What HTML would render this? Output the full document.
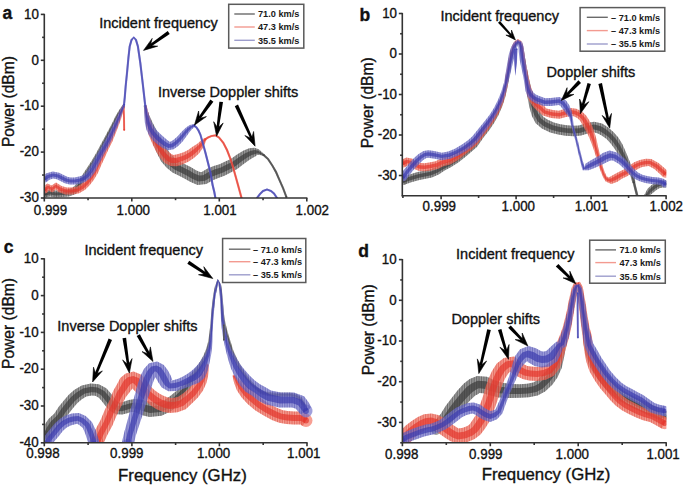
<!DOCTYPE html>
<html><head><meta charset="utf-8"><title>Doppler spectra</title>
<style>
html,body{margin:0;padding:0;background:#fff;}
body{width:685px;height:488px;overflow:hidden;}
svg{display:block;}
text{font-family:"Liberation Sans", sans-serif;fill:#111;stroke:#111;stroke-width:0.35px;}
</style></head><body>
<svg width="685" height="488" viewBox="0 0 685 488">
<defs>
<pattern id="hk" width="1.7" height="4" patternUnits="userSpaceOnUse"><rect width="0.8" height="4" fill="#222" fill-opacity="0.45"/></pattern>
<pattern id="hr" width="1.7" height="4" patternUnits="userSpaceOnUse"><rect width="0.8" height="4" fill="#c01a10" fill-opacity="0.4"/></pattern>
<pattern id="hb" width="1.7" height="4" patternUnits="userSpaceOnUse"><rect width="0.8" height="4" fill="#2a2a90" fill-opacity="0.4"/></pattern>
<clipPath id="ca"><rect x="44.3" y="0" width="270" height="198"/></clipPath>
<clipPath id="cb"><rect x="402.3" y="0" width="264" height="196"/></clipPath>
<clipPath id="cc"><rect x="44.3" y="240" width="270" height="202.6"/></clipPath>
<clipPath id="cd"><rect x="402.4" y="240" width="264" height="203"/></clipPath>
</defs>
<rect width="685" height="488" fill="#fff"/>
<g clip-path="url(#ca)">
<polygon points="45.1,197.4 50.0,196.5 55.9,197.5 62.3,197.0 68.7,196.4 75.8,194.0 80.5,189.0 84.3,182.4 88.2,175.3 91.9,168.7 95.9,162.1 99.8,155.0 103.8,147.4 107.7,139.9 111.6,131.8 114.9,124.7 117.8,118.2 120.6,112.7 123.0,108.7 124.4,106.7 122.6,105.3 121.0,107.3 118.4,111.3 115.2,116.8 112.1,123.3 108.4,130.2 104.3,138.1 100.2,145.6 96.2,153.0 92.1,159.9 88.1,166.3 83.8,172.7 79.7,179.6 75.5,185.0 72.2,188.0 67.3,189.6 61.7,190.0 56.1,190.5 50.0,189.5 43.9,190.6" fill="#7a7a7a" fill-opacity="0.72"/>
<circle cx="44.5" cy="194.0" r="3.50" fill="#7a7a7a" fill-opacity="0.72"/>
<circle cx="123.5" cy="106.0" r="1.10" fill="#7a7a7a" fill-opacity="0.72"/>
<polygon points="45.1,197.4 50.0,196.5 55.9,197.5 62.3,197.0 68.7,196.4 75.8,194.0 80.5,189.0 84.3,182.4 88.2,175.3 91.9,168.7 95.9,162.1 99.8,155.0 103.8,147.4 107.7,139.9 111.6,131.8 114.9,124.7 117.8,118.2 120.6,112.7 123.0,108.7 124.4,106.7 122.6,105.3 121.0,107.3 118.4,111.3 115.2,116.8 112.1,123.3 108.4,130.2 104.3,138.1 100.2,145.6 96.2,153.0 92.1,159.9 88.1,166.3 83.8,172.7 79.7,179.6 75.5,185.0 72.2,188.0 67.3,189.6 61.7,190.0 56.1,190.5 50.0,189.5 43.9,190.6" fill="url(#hk)"/>
<polygon points="44.8,195.5 50.0,194.6 55.9,195.6 62.1,195.1 68.3,194.5 74.8,192.4 79.1,187.9 83.1,181.6 87.0,174.6 90.9,168.0 94.9,161.5 98.8,154.4 102.8,146.9 106.8,139.4 110.7,131.4 114.1,124.3 117.1,117.8 120.0,112.3 122.4,108.3 123.9,106.3 123.1,105.7 121.6,107.7 119.0,111.7 115.9,117.2 112.9,123.7 109.3,130.6 105.2,138.6 101.2,146.1 97.2,153.6 93.1,160.5 89.1,167.0 85.0,173.4 80.9,180.4 76.9,186.1 73.2,189.6 67.7,191.5 61.9,191.9 56.1,192.4 50.0,191.4 44.2,192.5" fill="#3a3a3a" fill-opacity="0.7"/>
<circle cx="44.5" cy="194.0" r="1.57" fill="#3a3a3a" fill-opacity="0.7"/>
<circle cx="123.5" cy="106.0" r="0.50" fill="#3a3a3a" fill-opacity="0.7"/>
<polygon points="143.8,106.3 145.1,115.5 147.2,125.0 150.3,135.6 153.5,145.1 157.1,153.6 161.2,161.6 166.7,167.8 172.5,172.5 179.1,175.8 184.9,178.7 190.1,181.8 197.6,184.9 206.2,184.1 212.9,180.3 218.3,178.1 224.4,175.8 230.7,172.4 237.2,169.1 243.3,164.2 248.8,160.2 252.8,157.7 255.6,156.2 257.3,154.7 260.2,155.0 263.1,156.0 264.1,154.0 261.8,152.0 258.7,149.3 254.4,147.8 249.2,148.3 243.2,150.8 236.7,154.8 230.8,158.9 225.3,161.6 219.6,164.2 213.7,165.9 207.1,168.7 201.8,171.9 200.0,172.1 195.9,170.2 191.1,167.3 184.9,164.2 179.5,161.5 175.3,158.2 170.8,154.4 166.9,148.4 162.5,140.9 157.7,132.4 152.8,123.0 148.9,114.5 146.2,105.7" fill="#7a7a7a" fill-opacity="0.72"/>
<circle cx="145.0" cy="106.0" r="1.25" fill="#7a7a7a" fill-opacity="0.72"/>
<circle cx="263.6" cy="155.0" r="1.10" fill="#7a7a7a" fill-opacity="0.72"/>
<polygon points="143.8,106.3 145.1,115.5 147.2,125.0 150.3,135.6 153.5,145.1 157.1,153.6 161.2,161.6 166.7,167.8 172.5,172.5 179.1,175.8 184.9,178.7 190.1,181.8 197.6,184.9 206.2,184.1 212.9,180.3 218.3,178.1 224.4,175.8 230.7,172.4 237.2,169.1 243.3,164.2 248.8,160.2 252.8,157.7 255.6,156.2 257.3,154.7 260.2,155.0 263.1,156.0 264.1,154.0 261.8,152.0 258.7,149.3 254.4,147.8 249.2,148.3 243.2,150.8 236.7,154.8 230.8,158.9 225.3,161.6 219.6,164.2 213.7,165.9 207.1,168.7 201.8,171.9 200.0,172.1 195.9,170.2 191.1,167.3 184.9,164.2 179.5,161.5 175.3,158.2 170.8,154.4 166.9,148.4 162.5,140.9 157.7,132.4 152.8,123.0 148.9,114.5 146.2,105.7" fill="url(#hk)"/>
<polygon points="144.5,106.1 146.1,115.2 148.7,124.5 152.3,134.7 156.0,144.0 159.8,152.2 163.8,159.6 169.0,165.2 174.4,169.5 180.7,172.6 186.6,175.6 191.7,178.6 198.3,181.4 205.0,180.8 211.3,177.1 217.0,174.7 223.1,172.6 229.2,169.4 235.4,166.3 241.5,161.6 247.3,157.6 251.8,155.1 255.3,153.9 257.7,153.2 260.6,154.2 263.4,155.4 263.8,154.6 261.4,152.8 258.3,150.8 254.7,150.1 250.2,150.9 244.7,153.4 238.5,157.4 232.6,161.7 226.8,164.6 220.9,167.4 215.0,169.3 208.7,171.9 203.0,175.2 199.3,175.6 194.3,173.4 189.4,170.4 183.3,167.4 177.6,164.5 173.0,160.8 168.2,156.4 164.2,149.8 160.0,142.0 155.7,133.3 151.3,123.5 147.9,114.8 145.5,105.9" fill="#3a3a3a" fill-opacity="0.7"/>
<circle cx="145.0" cy="106.0" r="0.56" fill="#3a3a3a" fill-opacity="0.7"/>
<circle cx="263.6" cy="155.0" r="0.50" fill="#3a3a3a" fill-opacity="0.7"/>
<polygon points="262.9,155.8 267.2,159.7 271.4,166.1 275.0,172.5 278.3,180.0 282.0,188.4 285.4,197.4 287.4,196.6 284.0,187.6 280.3,179.2 277.0,171.5 273.2,164.9 268.8,158.3 264.3,154.2" fill="#7a7a7a" fill-opacity="0.72"/>
<circle cx="263.6" cy="155.0" r="1.10" fill="#7a7a7a" fill-opacity="0.72"/>
<circle cx="286.4" cy="197.0" r="1.10" fill="#7a7a7a" fill-opacity="0.72"/>
<polygon points="263.0,155.7 267.3,159.6 271.6,166.0 275.2,172.4 278.5,180.0 282.2,188.3 285.6,197.3 287.2,196.7 283.8,187.7 280.1,179.2 276.8,171.6 273.0,165.0 268.7,158.4 264.2,154.3" fill="#3a3a3a" fill-opacity="0.7"/>
<circle cx="263.6" cy="155.0" r="0.88" fill="#3a3a3a" fill-opacity="0.7"/>
<circle cx="286.4" cy="197.0" r="0.88" fill="#3a3a3a" fill-opacity="0.7"/>
<polygon points="46.8,192.7 48.5,190.5 52.4,192.5 56.0,189.5 58.4,192.1 65.4,194.5 72.3,194.5 79.2,193.3 85.1,189.8 89.6,185.3 93.7,179.9 97.9,173.0 101.2,165.3 104.7,157.8 108.5,149.2 112.5,141.2 115.8,133.0 118.6,125.8 121.1,118.7 122.8,112.6 124.3,108.6 124.9,107.1 122.7,105.9 121.7,107.4 119.8,111.4 117.3,117.3 114.4,124.2 111.2,131.0 107.5,138.8 103.5,146.8 99.3,155.2 95.8,162.7 92.1,170.0 88.3,176.1 84.4,180.7 80.9,184.2 76.8,186.7 71.7,187.5 66.6,187.5 61.6,185.9 56.0,182.5 51.6,185.5 47.5,183.5 42.2,187.3" fill="#f47a6a" fill-opacity="0.72"/>
<circle cx="44.5" cy="190.0" r="3.50" fill="#f47a6a" fill-opacity="0.72"/>
<circle cx="123.8" cy="106.5" r="1.20" fill="#f47a6a" fill-opacity="0.72"/>
<polygon points="46.8,192.7 48.5,190.5 52.4,192.5 56.0,189.5 58.4,192.1 65.4,194.5 72.3,194.5 79.2,193.3 85.1,189.8 89.6,185.3 93.7,179.9 97.9,173.0 101.2,165.3 104.7,157.8 108.5,149.2 112.5,141.2 115.8,133.0 118.6,125.8 121.1,118.7 122.8,112.6 124.3,108.6 124.9,107.1 122.7,105.9 121.7,107.4 119.8,111.4 117.3,117.3 114.4,124.2 111.2,131.0 107.5,138.8 103.5,146.8 99.3,155.2 95.8,162.7 92.1,170.0 88.3,176.1 84.4,180.7 80.9,184.2 76.8,186.7 71.7,187.5 66.6,187.5 61.6,185.9 56.0,182.5 51.6,185.5 47.5,183.5 42.2,187.3" fill="url(#hr)"/>
<polygon points="45.5,191.2 48.2,188.6 52.2,190.6 56.0,187.6 59.3,190.4 65.7,192.6 72.1,192.6 78.5,191.5 84.0,188.2 88.2,184.0 92.2,178.8 96.3,172.2 99.7,164.6 103.2,157.1 107.1,148.5 111.1,140.5 114.5,132.4 117.4,125.4 120.0,118.3 122.0,112.3 123.6,108.3 124.3,106.8 123.3,106.2 122.4,107.7 120.6,111.7 118.4,117.7 115.6,124.6 112.5,131.6 108.9,139.5 104.9,147.5 100.8,155.9 97.3,163.4 93.7,170.8 89.8,177.2 85.8,182.0 82.0,185.8 77.5,188.5 71.9,189.4 66.3,189.4 60.7,187.6 56.0,184.4 51.8,187.4 47.8,185.4 43.5,188.8" fill="#e4362c" fill-opacity="0.7"/>
<circle cx="44.5" cy="190.0" r="1.57" fill="#e4362c" fill-opacity="0.7"/>
<circle cx="123.8" cy="106.5" r="0.54" fill="#e4362c" fill-opacity="0.7"/>
<polygon points="122.5,106.0 123.0,118.0 123.2,130.0 125.2,130.0 125.0,118.0 124.5,106.0" fill="#f47a6a" fill-opacity="0.72"/>
<circle cx="123.5" cy="106.0" r="1.00" fill="#f47a6a" fill-opacity="0.72"/>
<circle cx="124.2" cy="130.0" r="1.00" fill="#f47a6a" fill-opacity="0.72"/>
<polygon points="122.7,106.0 123.2,118.0 123.4,130.0 125.0,130.0 124.8,118.0 124.3,106.0" fill="#e4362c" fill-opacity="0.7"/>
<circle cx="123.5" cy="106.0" r="0.80" fill="#e4362c" fill-opacity="0.7"/>
<circle cx="124.2" cy="130.0" r="0.80" fill="#e4362c" fill-opacity="0.7"/>
<polygon points="144.3,106.2 145.0,116.4 146.1,125.8 148.8,135.3 152.5,143.9 156.2,151.4 160.2,157.7 164.7,162.9 170.6,166.1 176.9,166.2 182.8,164.2 188.3,161.7 193.9,158.1 199.0,153.4 202.6,148.3 205.0,143.5 206.2,140.4 203.8,138.6 201.0,140.5 197.4,143.7 193.0,146.6 188.1,149.9 183.7,152.3 179.2,153.8 175.1,154.8 173.4,154.9 171.3,154.1 167.8,151.3 163.8,146.6 159.5,140.1 155.2,132.7 151.9,124.2 149.0,115.6 146.7,105.8" fill="#f47a6a" fill-opacity="0.72"/>
<circle cx="145.5" cy="106.0" r="1.25" fill="#f47a6a" fill-opacity="0.72"/>
<circle cx="205.0" cy="139.5" r="1.50" fill="#f47a6a" fill-opacity="0.72"/>
<polygon points="144.3,106.2 145.0,116.4 146.1,125.8 148.8,135.3 152.5,143.9 156.2,151.4 160.2,157.7 164.7,162.9 170.6,166.1 176.9,166.2 182.8,164.2 188.3,161.7 193.9,158.1 199.0,153.4 202.6,148.3 205.0,143.5 206.2,140.4 203.8,138.6 201.0,140.5 197.4,143.7 193.0,146.6 188.1,149.9 183.7,152.3 179.2,153.8 175.1,154.8 173.4,154.9 171.3,154.1 167.8,151.3 163.8,146.6 159.5,140.1 155.2,132.7 151.9,124.2 149.0,115.6 146.7,105.8" fill="url(#hr)"/>
<polygon points="144.9,106.1 146.1,116.2 147.7,125.4 150.5,134.6 154.4,142.8 158.3,150.1 162.3,155.9 166.5,160.5 171.4,163.0 176.4,163.1 181.8,161.3 187.1,159.1 192.3,155.8 197.3,151.5 201.2,147.0 203.9,142.7 205.5,139.9 204.5,139.1 202.1,141.3 198.8,145.0 194.7,148.5 189.7,152.2 184.9,154.9 180.2,156.7 175.6,157.9 172.6,158.0 169.5,156.5 165.7,153.1 161.7,147.9 157.6,141.2 153.5,133.4 150.3,124.6 147.9,115.8 146.1,105.9" fill="#e4362c" fill-opacity="0.7"/>
<circle cx="145.5" cy="106.0" r="0.56" fill="#e4362c" fill-opacity="0.7"/>
<circle cx="205.0" cy="139.5" r="0.68" fill="#e4362c" fill-opacity="0.7"/>
<polygon points="205.6,140.4 208.5,138.5 211.8,137.1 215.2,136.5 218.2,138.3 222.4,143.4 226.0,150.4 229.3,158.9 231.9,167.3 234.4,176.3 236.9,185.3 239.7,195.6 240.4,198.3 242.6,197.7 241.9,195.0 239.1,184.7 236.6,175.7 234.1,166.7 231.3,158.1 228.0,149.6 224.2,142.2 219.8,136.7 215.6,134.3 211.2,134.9 207.5,136.5 204.4,138.6" fill="#f47a6a" fill-opacity="0.72"/>
<circle cx="205.0" cy="139.5" r="1.10" fill="#f47a6a" fill-opacity="0.72"/>
<circle cx="241.5" cy="198.0" r="1.10" fill="#f47a6a" fill-opacity="0.72"/>
<polygon points="205.5,140.2 208.4,138.3 211.7,136.8 215.2,136.3 218.4,138.1 222.6,143.3 226.2,150.4 229.5,158.8 232.2,167.3 234.7,176.2 237.2,185.2 240.0,195.5 240.6,198.2 242.4,197.8 241.6,195.1 238.8,184.8 236.3,175.8 233.8,166.7 231.1,158.2 227.8,149.6 224.0,142.3 219.6,136.9 215.6,134.5 211.3,135.2 207.6,136.7 204.5,138.8" fill="#e4362c" fill-opacity="0.7"/>
<circle cx="205.0" cy="139.5" r="0.88" fill="#e4362c" fill-opacity="0.7"/>
<circle cx="241.5" cy="198.0" r="0.88" fill="#e4362c" fill-opacity="0.7"/>
<polygon points="46.5,181.8 49.5,179.7 53.2,178.5 56.9,179.3 60.4,181.1 64.8,183.3 69.6,184.5 75.3,184.5 80.9,183.4 85.7,181.6 90.5,177.9 95.0,171.9 97.9,166.1 100.9,160.5 104.1,154.0 108.1,146.9 112.0,139.2 115.3,131.6 118.1,124.9 120.6,118.3 122.5,112.6 124.1,108.6 125.1,105.4 122.9,104.6 121.5,107.4 119.5,111.4 117.0,116.7 113.9,123.1 110.7,129.4 107.0,136.8 102.9,144.1 98.9,151.0 95.1,157.5 92.1,162.9 89.0,168.1 85.5,173.1 82.3,175.4 79.1,176.6 74.7,177.5 70.4,177.5 67.2,176.7 63.6,174.9 59.1,172.7 52.8,171.5 46.5,173.3 42.5,176.2" fill="#7b7bcf" fill-opacity="0.72"/>
<circle cx="44.5" cy="179.0" r="3.50" fill="#7b7bcf" fill-opacity="0.72"/>
<circle cx="124.0" cy="105.0" r="1.20" fill="#7b7bcf" fill-opacity="0.72"/>
<polygon points="46.5,181.8 49.5,179.7 53.2,178.5 56.9,179.3 60.4,181.1 64.8,183.3 69.6,184.5 75.3,184.5 80.9,183.4 85.7,181.6 90.5,177.9 95.0,171.9 97.9,166.1 100.9,160.5 104.1,154.0 108.1,146.9 112.0,139.2 115.3,131.6 118.1,124.9 120.6,118.3 122.5,112.6 124.1,108.6 125.1,105.4 122.9,104.6 121.5,107.4 119.5,111.4 117.0,116.7 113.9,123.1 110.7,129.4 107.0,136.8 102.9,144.1 98.9,151.0 95.1,157.5 92.1,162.9 89.0,168.1 85.5,173.1 82.3,175.4 79.1,176.6 74.7,177.5 70.4,177.5 67.2,176.7 63.6,174.9 59.1,172.7 52.8,171.5 46.5,173.3 42.5,176.2" fill="url(#hb)"/>
<polygon points="45.4,180.3 48.7,177.9 53.1,176.6 57.5,177.5 61.3,179.4 65.4,181.5 69.8,182.6 75.2,182.6 80.4,181.5 84.8,179.9 89.1,176.6 93.3,170.8 96.3,165.2 99.3,159.7 102.7,153.2 106.7,146.2 110.6,138.6 114.0,131.0 116.9,124.4 119.6,117.8 121.7,112.3 123.4,108.2 124.5,105.2 123.5,104.8 122.2,107.8 120.3,111.7 118.0,117.2 115.1,123.6 112.0,130.0 108.4,137.4 104.3,144.8 100.3,151.8 96.7,158.3 93.7,163.8 90.7,169.2 86.9,174.4 83.2,177.1 79.6,178.5 74.8,179.4 70.2,179.4 66.6,178.5 62.7,176.6 58.5,174.5 52.9,173.4 47.3,175.1 43.6,177.7" fill="#3c3cae" fill-opacity="0.7"/>
<circle cx="44.5" cy="179.0" r="1.57" fill="#3c3cae" fill-opacity="0.7"/>
<circle cx="124.0" cy="105.0" r="0.54" fill="#3c3cae" fill-opacity="0.7"/>
<polygon points="125.1,105.1 125.9,97.1 126.7,87.1 128.3,71.1 129.6,57.1 130.8,46.6 132.5,40.5 133.8,38.5 135.0,40.5 136.8,46.6 139.2,62.9 141.7,84.2 144.1,105.5 146.3,105.3 143.9,84.0 141.4,62.7 139.0,46.2 137.0,39.5 133.8,36.3 130.5,39.5 128.6,46.2 127.4,56.9 126.1,70.9 124.5,86.9 123.7,96.9 122.9,104.9" fill="#7b7bcf" fill-opacity="0.72"/>
<circle cx="124.0" cy="105.0" r="1.10" fill="#7b7bcf" fill-opacity="0.72"/>
<circle cx="145.2" cy="105.4" r="1.10" fill="#7b7bcf" fill-opacity="0.72"/>
<polygon points="124.9,105.1 125.7,97.1 126.5,87.1 128.1,71.1 129.4,57.1 130.6,46.6 132.3,40.4 133.8,38.3 135.2,40.4 137.0,46.6 139.4,62.9 141.9,84.2 144.3,105.5 146.1,105.3 143.7,84.0 141.2,62.7 138.8,46.2 136.8,39.6 133.8,36.5 130.7,39.6 128.8,46.2 127.6,56.9 126.3,70.9 124.7,86.9 123.9,96.9 123.1,104.9" fill="#3c3cae" fill-opacity="0.7"/>
<circle cx="124.0" cy="105.0" r="0.88" fill="#3c3cae" fill-opacity="0.7"/>
<circle cx="145.2" cy="105.4" r="0.88" fill="#3c3cae" fill-opacity="0.7"/>
<polygon points="144.0,105.6 144.3,115.4 144.9,122.8 146.4,129.7 149.4,135.7 153.6,140.9 158.0,144.7 162.5,147.8 167.8,150.2 173.6,149.2 178.2,145.9 182.6,141.4 186.9,135.7 189.9,131.4 192.2,128.9 194.7,126.8 193.3,124.2 189.8,125.1 186.1,127.6 181.9,131.5 177.4,136.6 173.4,140.1 170.4,141.8 169.6,141.8 167.5,140.2 164.0,137.3 160.4,134.1 156.6,130.3 153.6,126.3 151.1,121.2 148.7,114.6 146.4,105.2" fill="#7b7bcf" fill-opacity="0.72"/>
<circle cx="145.2" cy="105.4" r="1.25" fill="#7b7bcf" fill-opacity="0.72"/>
<circle cx="194.0" cy="125.5" r="1.50" fill="#7b7bcf" fill-opacity="0.72"/>
<polygon points="144.0,105.6 144.3,115.4 144.9,122.8 146.4,129.7 149.4,135.7 153.6,140.9 158.0,144.7 162.5,147.8 167.8,150.2 173.6,149.2 178.2,145.9 182.6,141.4 186.9,135.7 189.9,131.4 192.2,128.9 194.7,126.8 193.3,124.2 189.8,125.1 186.1,127.6 181.9,131.5 177.4,136.6 173.4,140.1 170.4,141.8 169.6,141.8 167.5,140.2 164.0,137.3 160.4,134.1 156.6,130.3 153.6,126.3 151.1,121.2 148.7,114.6 146.4,105.2" fill="url(#hb)"/>
<polygon points="144.6,105.5 145.5,115.2 146.6,122.4 148.4,128.7 151.4,134.2 155.5,139.0 159.7,142.7 163.9,145.7 168.3,147.9 172.7,147.2 176.9,144.3 181.2,140.1 185.5,134.5 188.9,130.4 191.6,127.8 194.3,126.1 193.7,124.9 190.4,126.2 187.1,128.6 183.3,132.7 178.8,137.9 174.7,141.7 171.3,143.8 169.1,144.1 166.1,142.3 162.3,139.3 158.5,136.0 154.6,131.8 151.6,127.3 149.4,121.6 147.5,114.8 145.8,105.3" fill="#3c3cae" fill-opacity="0.7"/>
<circle cx="145.2" cy="105.4" r="0.56" fill="#3c3cae" fill-opacity="0.7"/>
<circle cx="194.0" cy="125.5" r="0.68" fill="#3c3cae" fill-opacity="0.7"/>
<polygon points="193.3,126.4 195.7,128.2 197.5,131.0 199.5,135.4 201.4,142.3 204.4,153.3 207.2,164.3 209.4,173.2 211.5,185.2 213.2,192.2 214.3,198.2 216.5,197.8 215.4,191.8 213.7,184.8 211.6,172.8 209.4,163.7 206.6,152.7 203.6,141.7 201.5,134.6 199.5,130.0 197.3,126.8 194.7,124.6" fill="#7b7bcf" fill-opacity="0.72"/>
<circle cx="194.0" cy="125.5" r="1.10" fill="#7b7bcf" fill-opacity="0.72"/>
<circle cx="215.4" cy="198.0" r="1.10" fill="#7b7bcf" fill-opacity="0.72"/>
<polygon points="193.5,126.2 195.8,128.1 197.7,130.9 199.7,135.3 201.7,142.2 204.6,153.2 207.4,164.2 209.6,173.2 211.7,185.2 213.4,192.2 214.5,198.2 216.3,197.8 215.2,191.8 213.5,184.8 211.4,172.8 209.2,163.8 206.4,152.8 203.3,141.8 201.3,134.7 199.3,130.1 197.2,126.9 194.5,124.8" fill="#3c3cae" fill-opacity="0.7"/>
<circle cx="194.0" cy="125.5" r="0.88" fill="#3c3cae" fill-opacity="0.7"/>
<circle cx="215.4" cy="198.0" r="0.88" fill="#3c3cae" fill-opacity="0.7"/>
<polygon points="257.9,198.7 260.8,194.7 263.6,191.9 267.0,190.6 270.5,192.0 273.2,194.2 276.1,198.6 277.9,197.4 274.8,192.8 271.5,190.0 267.0,188.4 262.4,190.1 259.2,193.3 256.1,197.3" fill="#7b7bcf" fill-opacity="0.72"/>
<circle cx="257.0" cy="198.0" r="1.10" fill="#7b7bcf" fill-opacity="0.72"/>
<circle cx="277.0" cy="198.0" r="1.10" fill="#7b7bcf" fill-opacity="0.72"/>
<polygon points="257.7,198.5 260.7,194.6 263.5,191.7 267.0,190.4 270.6,191.8 273.3,194.1 276.3,198.5 277.7,197.5 274.7,192.9 271.4,190.2 267.0,188.6 262.5,190.3 259.3,193.4 256.3,197.5" fill="#3c3cae" fill-opacity="0.7"/>
<circle cx="257.0" cy="198.0" r="0.88" fill="#3c3cae" fill-opacity="0.7"/>
<circle cx="277.0" cy="198.0" r="0.88" fill="#3c3cae" fill-opacity="0.7"/>
</g>
<g clip-path="url(#cb)">
<polygon points="404.3,184.8 411.2,182.3 419.4,179.9 431.8,177.4 438.7,174.4 444.6,170.6 450.8,167.3 458.3,162.4 465.9,156.4 471.7,151.6 477.1,146.8 483.5,137.5 489.0,130.5 493.9,123.2 498.3,115.4 502.1,106.7 505.0,98.0 507.3,88.3 509.2,78.3 510.5,70.2 511.7,62.3 513.3,54.4 515.1,48.1 516.9,45.0 518.0,44.0 519.0,44.8 520.4,49.4 521.5,55.3 522.7,62.2 523.8,70.3 525.0,79.3 526.0,88.5 527.6,97.7 529.4,107.2 531.9,115.9 535.7,123.3 541.9,128.5 550.2,132.4 558.1,134.5 565.4,135.7 573.8,136.2 581.1,135.6 589.3,133.1 593.8,132.2 598.0,133.4 602.0,135.8 606.6,139.1 610.7,143.4 614.6,148.8 618.5,154.8 621.9,160.6 624.8,165.2 627.9,170.9 630.3,175.5 632.3,182.4 635.3,181.6 633.7,174.5 632.1,169.1 630.2,162.8 628.1,157.4 625.5,151.2 622.4,144.2 618.3,137.6 613.4,131.9 608.0,127.2 602.0,123.6 594.2,121.8 586.7,122.9 578.9,125.4 573.8,125.8 566.6,125.3 560.3,124.3 553.8,122.6 547.3,119.5 543.3,116.7 540.1,112.1 536.6,104.8 533.4,96.3 531.0,87.5 529.0,78.7 527.2,69.7 525.7,61.8 524.5,54.7 523.4,48.6 521.6,43.2 518.0,41.0 514.7,43.0 512.3,46.9 510.3,53.6 508.7,61.7 507.5,69.8 506.0,77.7 504.3,87.7 502.0,97.0 498.9,105.3 494.7,113.6 490.1,120.8 485.0,127.5 479.5,134.5 472.9,143.2 468.3,147.4 462.1,151.6 454.9,157.6 447.6,161.7 441.4,164.4 435.3,167.6 429.8,169.6 417.6,172.1 408.8,174.7 401.7,177.2" fill="#7a7a7a" fill-opacity="0.72"/>
<circle cx="403.0" cy="181.0" r="4.00" fill="#7a7a7a" fill-opacity="0.72"/>
<circle cx="633.8" cy="182.0" r="1.50" fill="#7a7a7a" fill-opacity="0.72"/>
<polygon points="404.3,184.8 411.2,182.3 419.4,179.9 431.8,177.4 438.7,174.4 444.6,170.6 450.8,167.3 458.3,162.4 465.9,156.4 471.7,151.6 477.1,146.8 483.5,137.5 489.0,130.5 493.9,123.2 498.3,115.4 502.1,106.7 505.0,98.0 507.3,88.3 509.2,78.3 510.5,70.2 511.7,62.3 513.3,54.4 515.1,48.1 516.9,45.0 518.0,44.0 519.0,44.8 520.4,49.4 521.5,55.3 522.7,62.2 523.8,70.3 525.0,79.3 526.0,88.5 527.6,97.7 529.4,107.2 531.9,115.9 535.7,123.3 541.9,128.5 550.2,132.4 558.1,134.5 565.4,135.7 573.8,136.2 581.1,135.6 589.3,133.1 593.8,132.2 598.0,133.4 602.0,135.8 606.6,139.1 610.7,143.4 614.6,148.8 618.5,154.8 621.9,160.6 624.8,165.2 627.9,170.9 630.3,175.5 632.3,182.4 635.3,181.6 633.7,174.5 632.1,169.1 630.2,162.8 628.1,157.4 625.5,151.2 622.4,144.2 618.3,137.6 613.4,131.9 608.0,127.2 602.0,123.6 594.2,121.8 586.7,122.9 578.9,125.4 573.8,125.8 566.6,125.3 560.3,124.3 553.8,122.6 547.3,119.5 543.3,116.7 540.1,112.1 536.6,104.8 533.4,96.3 531.0,87.5 529.0,78.7 527.2,69.7 525.7,61.8 524.5,54.7 523.4,48.6 521.6,43.2 518.0,41.0 514.7,43.0 512.3,46.9 510.3,53.6 508.7,61.7 507.5,69.8 506.0,77.7 504.3,87.7 502.0,97.0 498.9,105.3 494.7,113.6 490.1,120.8 485.0,127.5 479.5,134.5 472.9,143.2 468.3,147.4 462.1,151.6 454.9,157.6 447.6,161.7 441.4,164.4 435.3,167.6 429.8,169.6 417.6,172.1 408.8,174.7 401.7,177.2" fill="url(#hk)"/>
<polygon points="403.6,182.7 410.6,180.2 418.9,177.8 431.3,175.2 437.7,172.5 443.7,168.9 449.9,165.8 457.4,161.1 464.8,155.1 470.8,150.5 475.9,145.8 482.4,136.7 487.9,129.7 492.8,122.6 497.3,114.9 501.2,106.3 504.2,97.7 506.5,88.1 508.3,78.1 509.7,70.1 510.9,62.1 512.5,54.2 514.3,47.8 516.3,44.4 518.0,43.2 519.7,44.3 521.2,49.2 522.3,55.1 523.5,62.1 524.7,70.1 526.1,79.1 527.4,88.2 529.2,97.3 531.4,106.5 534.2,114.9 537.8,121.5 543.4,126.0 551.2,129.7 558.7,131.7 565.7,132.8 573.8,133.4 580.5,132.8 588.6,130.3 593.9,129.4 599.1,130.7 603.6,133.4 608.5,137.1 612.8,141.8 616.8,147.5 620.4,153.8 623.6,159.7 626.3,164.6 629.1,170.4 631.2,175.2 633.1,182.2 634.5,181.8 632.8,174.8 630.9,169.6 628.7,163.4 626.4,158.3 623.6,152.2 620.2,145.5 616.2,139.2 611.5,133.9 606.4,129.6 600.9,126.3 594.1,124.6 587.4,125.7 579.5,128.2 573.8,128.6 566.3,128.2 559.7,127.1 552.8,125.3 545.8,122.0 541.2,118.5 537.8,113.1 534.6,105.5 531.8,96.7 529.6,87.8 527.9,78.9 526.3,69.9 524.9,61.9 523.7,54.9 522.6,48.8 520.9,43.7 518.0,41.8 515.3,43.6 513.1,47.2 511.1,53.8 509.5,61.9 508.3,69.9 506.9,77.9 505.1,87.9 502.8,97.3 499.8,105.7 495.7,114.1 491.2,121.4 486.1,128.3 480.6,135.3 474.1,144.2 469.2,148.5 463.2,152.9 455.8,158.9 448.5,163.2 442.3,166.1 436.3,169.5 430.3,171.8 418.1,174.2 409.4,176.8 402.4,179.3" fill="#3a3a3a" fill-opacity="0.7"/>
<circle cx="403.0" cy="181.0" r="1.80" fill="#3a3a3a" fill-opacity="0.7"/>
<circle cx="633.8" cy="182.0" r="0.68" fill="#3a3a3a" fill-opacity="0.7"/>
<polygon points="632.5,182.3 633.7,187.3 635.2,193.3 636.0,196.3 638.6,195.7 637.8,192.7 636.3,186.7 635.1,181.7" fill="#7a7a7a" fill-opacity="0.72"/>
<circle cx="633.8" cy="182.0" r="1.30" fill="#7a7a7a" fill-opacity="0.72"/>
<circle cx="637.3" cy="196.0" r="1.30" fill="#7a7a7a" fill-opacity="0.72"/>
<polygon points="632.8,182.2 634.0,187.2 635.5,193.3 636.3,196.3 638.3,195.7 637.5,192.7 636.0,186.8 634.8,181.8" fill="#3a3a3a" fill-opacity="0.7"/>
<circle cx="633.8" cy="182.0" r="1.04" fill="#3a3a3a" fill-opacity="0.7"/>
<circle cx="637.3" cy="196.0" r="1.04" fill="#3a3a3a" fill-opacity="0.7"/>
<polygon points="647.6,197.2 652.4,193.2 656.1,190.3 659.2,188.2 662.5,187.5 665.5,187.5 665.5,180.5 661.5,180.5 656.4,181.8 651.9,184.7 647.6,188.8 644.4,194.8" fill="#7a7a7a" fill-opacity="0.72"/>
<circle cx="646.0" cy="196.0" r="2.00" fill="#7a7a7a" fill-opacity="0.72"/>
<circle cx="665.5" cy="184.0" r="3.50" fill="#7a7a7a" fill-opacity="0.72"/>
<polygon points="647.6,197.2 652.4,193.2 656.1,190.3 659.2,188.2 662.5,187.5 665.5,187.5 665.5,180.5 661.5,180.5 656.4,181.8 651.9,184.7 647.6,188.8 644.4,194.8" fill="url(#hk)"/>
<polygon points="646.7,196.6 651.1,192.0 655.0,188.7 658.4,186.4 662.2,185.6 665.5,185.6 665.5,182.4 661.8,182.4 657.2,183.6 653.0,186.3 648.9,190.0 645.3,195.4" fill="#3a3a3a" fill-opacity="0.7"/>
<circle cx="646.0" cy="196.0" r="0.90" fill="#3a3a3a" fill-opacity="0.7"/>
<circle cx="665.5" cy="184.0" r="1.57" fill="#3a3a3a" fill-opacity="0.7"/>
<polygon points="404.8,167.1 407.5,165.5 409.4,166.2 413.2,168.6 419.1,170.9 424.8,171.3 430.7,170.4 438.2,168.8 443.2,166.3 450.7,164.2 458.6,159.7 466.1,153.8 472.2,149.2 477.6,144.3 484.1,135.5 489.4,128.3 494.3,121.0 498.7,113.2 502.6,104.4 505.4,95.6 507.5,86.3 508.7,77.3 510.0,68.8 511.3,60.8 513.0,53.4 515.1,47.1 517.1,43.6 518.0,42.7 518.6,43.4 520.0,47.9 521.3,53.2 522.4,61.2 523.5,69.3 524.5,77.3 525.6,86.5 526.9,95.1 529.8,102.0 534.1,107.7 538.8,111.9 542.9,115.6 551.2,117.9 559.5,118.8 566.0,116.9 571.1,115.9 573.7,116.3 577.3,118.1 579.9,120.5 582.0,124.0 584.9,129.3 588.1,135.1 590.6,140.9 593.1,147.7 595.3,154.6 597.3,160.5 599.5,168.1 601.6,173.7 603.5,177.9 605.7,181.6 611.3,184.1 617.4,181.7 621.8,178.8 627.6,176.0 633.1,172.1 637.8,168.9 642.1,167.1 646.6,166.2 648.8,166.1 654.4,169.1 658.5,172.8 663.0,176.8 668.0,171.2 663.5,167.2 658.6,162.9 651.2,158.9 645.8,158.8 639.9,159.9 634.2,162.3 628.9,165.9 623.8,169.6 618.2,172.2 613.6,174.7 610.1,176.7 608.3,177.4 606.5,176.1 604.8,172.3 602.9,167.1 601.1,159.5 599.7,153.4 597.9,146.3 596.4,139.1 594.5,132.5 592.1,125.7 589.0,120.0 586.1,115.5 581.9,111.5 576.3,108.7 570.7,107.9 564.0,109.1 558.9,110.8 552.8,110.1 546.3,108.4 544.2,106.1 539.9,102.3 536.2,98.0 533.1,92.9 530.4,85.5 528.5,76.7 526.9,68.7 525.4,60.8 524.3,52.8 523.4,47.1 521.8,41.6 518.0,38.9 514.3,41.4 511.9,45.9 510.0,52.6 508.3,60.2 507.0,68.2 505.3,76.7 504.1,85.7 501.6,94.4 498.4,102.6 494.3,110.8 489.7,118.0 484.6,124.7 478.9,131.5 472.4,139.7 467.8,143.8 461.9,148.2 454.6,153.3 447.7,156.8 440.4,158.7 435.6,161.2 429.3,162.6 424.4,163.3 420.9,163.1 416.8,161.4 412.6,158.8 406.5,157.5 401.2,159.9" fill="#f47a6a" fill-opacity="0.72"/>
<circle cx="403.0" cy="163.5" r="4.00" fill="#f47a6a" fill-opacity="0.72"/>
<circle cx="665.5" cy="174.0" r="3.75" fill="#f47a6a" fill-opacity="0.72"/>
<polygon points="404.8,167.1 407.5,165.5 409.4,166.2 413.2,168.6 419.1,170.9 424.8,171.3 430.7,170.4 438.2,168.8 443.2,166.3 450.7,164.2 458.6,159.7 466.1,153.8 472.2,149.2 477.6,144.3 484.1,135.5 489.4,128.3 494.3,121.0 498.7,113.2 502.6,104.4 505.4,95.6 507.5,86.3 508.7,77.3 510.0,68.8 511.3,60.8 513.0,53.4 515.1,47.1 517.1,43.6 518.0,42.7 518.6,43.4 520.0,47.9 521.3,53.2 522.4,61.2 523.5,69.3 524.5,77.3 525.6,86.5 526.9,95.1 529.8,102.0 534.1,107.7 538.8,111.9 542.9,115.6 551.2,117.9 559.5,118.8 566.0,116.9 571.1,115.9 573.7,116.3 577.3,118.1 579.9,120.5 582.0,124.0 584.9,129.3 588.1,135.1 590.6,140.9 593.1,147.7 595.3,154.6 597.3,160.5 599.5,168.1 601.6,173.7 603.5,177.9 605.7,181.6 611.3,184.1 617.4,181.7 621.8,178.8 627.6,176.0 633.1,172.1 637.8,168.9 642.1,167.1 646.6,166.2 648.8,166.1 654.4,169.1 658.5,172.8 663.0,176.8 668.0,171.2 663.5,167.2 658.6,162.9 651.2,158.9 645.8,158.8 639.9,159.9 634.2,162.3 628.9,165.9 623.8,169.6 618.2,172.2 613.6,174.7 610.1,176.7 608.3,177.4 606.5,176.1 604.8,172.3 602.9,167.1 601.1,159.5 599.7,153.4 597.9,146.3 596.4,139.1 594.5,132.5 592.1,125.7 589.0,120.0 586.1,115.5 581.9,111.5 576.3,108.7 570.7,107.9 564.0,109.1 558.9,110.8 552.8,110.1 546.3,108.4 544.2,106.1 539.9,102.3 536.2,98.0 533.1,92.9 530.4,85.5 528.5,76.7 526.9,68.7 525.4,60.8 524.3,52.8 523.4,47.1 521.8,41.6 518.0,38.9 514.3,41.4 511.9,45.9 510.0,52.6 508.3,60.2 507.0,68.2 505.3,76.7 504.1,85.7 501.6,94.4 498.4,102.6 494.3,110.8 489.7,118.0 484.6,124.7 478.9,131.5 472.4,139.7 467.8,143.8 461.9,148.2 454.6,153.3 447.7,156.8 440.4,158.7 435.6,161.2 429.3,162.6 424.4,163.3 420.9,163.1 416.8,161.4 412.6,158.8 406.5,157.5 401.2,159.9" fill="url(#hr)"/>
<polygon points="403.8,165.1 407.2,163.3 410.3,164.1 414.2,166.6 419.6,168.8 424.7,169.1 430.3,168.3 437.5,166.7 442.4,164.2 449.9,162.2 457.5,157.9 464.9,152.3 471.0,147.7 476.2,143.0 482.7,134.4 488.1,127.3 493.0,120.2 497.5,112.5 501.4,103.9 504.4,95.3 506.6,86.2 507.8,77.1 509.2,68.6 510.5,60.6 512.2,53.2 514.2,46.8 516.3,43.0 518.0,41.7 519.5,42.9 521.0,47.7 522.1,53.1 523.2,61.1 524.4,69.1 525.6,77.1 526.9,86.2 528.6,94.5 531.6,100.9 535.7,106.2 540.3,110.3 543.8,113.6 551.7,115.8 559.3,116.6 565.4,114.7 571.0,113.7 574.4,114.2 578.6,116.3 581.6,119.1 583.9,122.9 586.9,128.3 589.8,134.4 592.2,140.4 594.4,147.3 596.5,154.3 598.3,160.2 600.4,167.8 602.5,173.3 604.3,177.4 606.4,180.5 611.0,182.1 616.3,179.8 620.8,177.0 626.6,174.3 632.0,170.4 636.8,167.1 641.5,165.1 646.4,164.2 649.5,164.1 655.5,167.4 659.9,171.3 664.4,175.3 666.6,172.7 662.1,168.7 657.5,164.6 650.5,160.9 646.0,160.8 640.5,161.9 635.2,164.1 630.0,167.6 624.8,171.3 619.2,174.0 614.7,176.6 610.4,178.7 607.6,178.5 605.7,176.6 603.9,172.7 602.0,167.4 600.1,159.8 598.5,153.7 596.6,146.7 594.8,139.6 592.8,133.2 590.1,126.7 587.1,121.1 584.4,116.9 580.6,113.3 575.6,110.8 570.8,110.1 564.6,111.3 559.1,113.0 552.3,112.2 545.4,110.4 542.7,107.7 538.3,103.8 534.4,99.1 531.4,93.5 529.1,85.8 527.4,76.9 526.0,68.9 524.6,60.9 523.5,52.9 522.4,47.3 520.9,42.1 518.0,39.9 515.1,42.0 512.8,46.2 510.8,52.8 509.1,60.4 507.8,68.4 506.2,76.9 505.0,85.8 502.6,94.7 499.6,103.1 495.5,111.5 491.0,118.8 485.9,125.7 480.3,132.6 473.8,141.0 469.0,145.3 463.1,149.7 455.7,155.1 448.5,158.8 441.2,160.8 436.3,163.3 429.7,164.7 424.5,165.5 420.4,165.2 415.8,163.4 411.7,160.9 406.8,159.7 402.2,161.9" fill="#e4362c" fill-opacity="0.7"/>
<circle cx="403.0" cy="163.5" r="1.80" fill="#e4362c" fill-opacity="0.7"/>
<circle cx="665.5" cy="174.0" r="1.69" fill="#e4362c" fill-opacity="0.7"/>
<polygon points="406.0,179.7 410.0,174.3 415.1,168.1 419.2,163.7 423.2,160.0 426.4,158.0 428.3,157.8 431.4,158.2 435.0,158.8 441.8,160.2 450.2,158.7 458.3,155.5 466.0,151.0 472.3,146.4 477.8,141.5 484.3,132.6 489.6,125.5 494.5,118.1 498.9,110.3 502.8,101.5 505.6,92.7 507.7,84.0 509.8,76.0 511.5,68.7 513.2,61.6 514.9,54.7 516.4,49.0 517.8,45.4 518.5,44.2 518.1,44.2 518.5,47.4 518.8,52.3 519.8,60.4 521.5,68.4 523.3,76.8 524.6,84.5 525.5,90.9 527.6,96.5 531.2,100.5 535.4,103.2 543.9,106.1 551.3,106.0 558.9,105.0 560.4,106.0 562.8,109.0 566.3,113.8 569.3,117.4 571.1,125.3 573.3,133.3 575.5,141.3 577.3,149.3 579.3,157.3 581.0,164.3 582.6,170.2 588.5,170.2 593.9,168.3 599.0,166.0 603.3,164.1 607.2,162.0 610.5,160.5 613.1,160.6 619.0,164.1 623.3,168.1 628.5,173.5 634.0,178.4 639.7,181.3 645.4,182.9 651.6,184.0 657.5,184.5 660.7,185.2 663.8,187.0 667.2,181.0 663.3,178.8 658.5,177.5 652.4,177.0 647.0,176.1 642.3,174.7 638.0,172.6 633.5,168.5 628.7,162.9 624.0,157.9 616.9,152.4 609.5,150.5 602.8,153.0 598.7,155.9 595.0,158.0 590.1,160.7 585.5,163.8 584.8,166.8 583.6,163.7 581.7,156.7 579.7,148.7 577.9,140.7 575.7,132.7 573.5,124.7 572.7,116.6 571.7,111.2 569.2,105.0 565.6,100.0 559.5,97.0 550.7,98.0 545.3,98.3 538.6,95.8 535.8,94.5 533.4,92.5 531.1,89.1 529.4,83.5 527.7,76.0 526.5,67.6 525.2,59.6 524.2,51.7 523.5,46.6 521.9,41.8 517.5,39.8 513.8,42.6 511.2,47.0 509.1,53.3 507.8,60.4 506.5,67.7 505.4,75.0 503.9,83.0 501.4,91.3 498.2,99.5 494.1,107.7 489.5,114.9 484.4,121.5 478.7,128.4 472.2,136.5 467.7,140.6 462.0,144.6 454.9,148.7 448.2,151.5 441.8,152.7 436.4,151.4 432.6,150.8 428.3,150.2 423.6,151.0 418.6,154.0 413.8,158.3 409.5,163.1 404.0,169.7 400.0,175.3" fill="#7b7bcf" fill-opacity="0.72"/>
<circle cx="403.0" cy="177.5" r="3.75" fill="#7b7bcf" fill-opacity="0.72"/>
<circle cx="665.5" cy="184.0" r="3.50" fill="#7b7bcf" fill-opacity="0.72"/>
<polygon points="406.0,179.7 410.0,174.3 415.1,168.1 419.2,163.7 423.2,160.0 426.4,158.0 428.3,157.8 431.4,158.2 435.0,158.8 441.8,160.2 450.2,158.7 458.3,155.5 466.0,151.0 472.3,146.4 477.8,141.5 484.3,132.6 489.6,125.5 494.5,118.1 498.9,110.3 502.8,101.5 505.6,92.7 507.7,84.0 509.8,76.0 511.5,68.7 513.2,61.6 514.9,54.7 516.4,49.0 517.8,45.4 518.5,44.2 518.1,44.2 518.5,47.4 518.8,52.3 519.8,60.4 521.5,68.4 523.3,76.8 524.6,84.5 525.5,90.9 527.6,96.5 531.2,100.5 535.4,103.2 543.9,106.1 551.3,106.0 558.9,105.0 560.4,106.0 562.8,109.0 566.3,113.8 569.3,117.4 571.1,125.3 573.3,133.3 575.5,141.3 577.3,149.3 579.3,157.3 581.0,164.3 582.6,170.2 588.5,170.2 593.9,168.3 599.0,166.0 603.3,164.1 607.2,162.0 610.5,160.5 613.1,160.6 619.0,164.1 623.3,168.1 628.5,173.5 634.0,178.4 639.7,181.3 645.4,182.9 651.6,184.0 657.5,184.5 660.7,185.2 663.8,187.0 667.2,181.0 663.3,178.8 658.5,177.5 652.4,177.0 647.0,176.1 642.3,174.7 638.0,172.6 633.5,168.5 628.7,162.9 624.0,157.9 616.9,152.4 609.5,150.5 602.8,153.0 598.7,155.9 595.0,158.0 590.1,160.7 585.5,163.8 584.8,166.8 583.6,163.7 581.7,156.7 579.7,148.7 577.9,140.7 575.7,132.7 573.5,124.7 572.7,116.6 571.7,111.2 569.2,105.0 565.6,100.0 559.5,97.0 550.7,98.0 545.3,98.3 538.6,95.8 535.8,94.5 533.4,92.5 531.1,89.1 529.4,83.5 527.7,76.0 526.5,67.6 525.2,59.6 524.2,51.7 523.5,46.6 521.9,41.8 517.5,39.8 513.8,42.6 511.2,47.0 509.1,53.3 507.8,60.4 506.5,67.7 505.4,75.0 503.9,83.0 501.4,91.3 498.2,99.5 494.1,107.7 489.5,114.9 484.4,121.5 478.7,128.4 472.2,136.5 467.7,140.6 462.0,144.6 454.9,148.7 448.2,151.5 441.8,152.7 436.4,151.4 432.6,150.8 428.3,150.2 423.6,151.0 418.6,154.0 413.8,158.3 409.5,163.1 404.0,169.7 400.0,175.3" fill="url(#hb)"/>
<polygon points="404.4,178.5 408.3,173.0 413.6,166.7 417.7,162.2 421.9,158.3 425.6,156.1 428.3,155.7 431.8,156.2 435.4,156.8 441.8,158.1 449.7,156.7 457.3,153.6 464.9,149.2 471.1,144.8 476.3,140.1 482.7,131.5 488.2,124.4 493.1,117.2 497.6,109.6 501.5,100.9 504.5,92.3 506.7,83.7 508.6,75.7 510.1,68.4 511.7,61.3 513.3,54.3 515.0,48.4 516.7,44.6 518.2,43.0 519.1,43.5 519.9,47.2 520.3,52.1 521.3,60.2 522.9,68.2 524.5,76.6 525.9,84.2 527.0,90.4 529.2,95.4 532.5,98.8 536.3,101.2 544.3,104.0 551.1,103.8 559.1,102.8 561.8,104.3 564.6,107.9 567.8,113.1 570.2,117.2 571.8,125.1 574.0,133.1 576.2,141.1 578.0,149.1 580.0,157.1 581.7,164.2 583.2,169.3 587.7,168.4 592.9,166.2 597.9,163.8 602.0,161.9 606.0,159.5 610.2,157.7 614.1,158.3 620.4,162.4 624.8,166.7 629.9,172.1 635.1,176.8 640.4,179.5 645.9,181.0 651.8,182.1 657.8,182.6 661.4,183.5 664.7,185.4 666.3,182.6 662.6,180.5 658.2,179.4 652.2,178.9 646.5,178.0 641.6,176.5 636.9,174.2 632.1,169.9 627.2,164.3 622.6,159.6 615.9,154.7 609.8,153.3 604.0,155.5 600.0,158.1 596.1,160.2 591.1,162.8 586.3,165.6 584.2,167.7 582.9,163.8 581.0,156.9 579.0,148.9 577.2,140.9 575.0,132.9 572.8,124.9 571.8,116.8 570.2,111.9 567.4,106.1 564.2,101.7 559.3,99.2 550.9,100.2 544.9,100.4 537.7,97.8 534.5,96.2 531.8,93.6 529.6,89.6 528.1,83.8 526.5,76.2 525.1,67.8 523.7,59.8 522.7,51.9 522.1,46.8 520.9,42.5 517.8,41.0 514.9,43.4 512.6,47.6 510.7,53.7 509.3,60.7 507.9,68.0 506.6,75.3 504.9,83.3 502.5,91.7 499.5,100.1 495.4,108.4 490.9,115.8 485.8,122.6 480.3,129.5 473.7,137.9 468.9,142.2 463.1,146.4 455.9,150.6 448.7,153.5 441.8,154.7 436.0,153.4 432.2,152.8 428.3,152.3 424.4,152.9 419.9,155.7 415.3,159.8 411.0,164.5 405.7,171.0 401.6,176.5" fill="#3c3cae" fill-opacity="0.7"/>
<circle cx="403.0" cy="177.5" r="1.69" fill="#3c3cae" fill-opacity="0.7"/>
<circle cx="665.5" cy="184.0" r="1.57" fill="#3c3cae" fill-opacity="0.7"/>
<polygon points="513.6,49.0 514.2,62.0 515.3,76.0 517.0,62.0 517.5,49.0 515.5,49.0 515.0,62.0 515.3,74.0 516.2,62.0 515.6,49.0" fill="#7b7bcf" fill-opacity="0.72"/>
<circle cx="514.6" cy="49.0" r="1.00" fill="#7b7bcf" fill-opacity="0.72"/>
<circle cx="516.5" cy="49.0" r="1.00" fill="#7b7bcf" fill-opacity="0.72"/>
<polygon points="513.8,49.0 514.4,62.0 515.3,75.8 516.8,62.0 517.3,49.0 515.7,49.0 515.2,62.0 515.3,74.2 516.0,62.0 515.4,49.0" fill="#3c3cae" fill-opacity="0.7"/>
<circle cx="514.6" cy="49.0" r="0.80" fill="#3c3cae" fill-opacity="0.7"/>
<circle cx="516.5" cy="49.0" r="0.80" fill="#3c3cae" fill-opacity="0.7"/>
</g>
<g clip-path="url(#cc)">
<polygon points="51.2,438.8 54.3,431.9 57.5,426.9 63.6,421.3 68.4,414.0 73.1,408.0 77.2,403.2 81.5,399.6 86.2,396.6 91.7,395.5 95.2,395.7 98.9,397.7 101.9,401.3 105.6,406.1 110.2,411.1 116.3,414.3 122.3,414.4 127.1,413.3 131.2,411.9 134.6,412.0 137.7,413.3 142.3,415.2 149.5,417.0 161.5,415.8 171.3,411.1 179.1,404.4 184.8,396.8 189.4,390.1 193.1,383.6 197.4,377.0 201.0,370.6 204.7,363.7 207.4,356.7 209.3,349.4 210.9,342.3 211.9,334.2 212.6,326.1 213.2,318.1 213.9,310.1 214.7,302.1 215.8,294.2 217.2,287.3 218.7,281.1 218.7,285.3 219.6,291.1 220.2,299.1 220.6,307.1 221.0,314.1 221.6,320.3 223.1,328.4 225.3,336.5 227.8,344.5 230.3,352.2 233.9,360.3 238.3,368.2 243.6,376.5 249.5,384.1 254.9,389.3 261.1,394.2 267.7,396.0 276.5,396.8 290.4,396.8 295.3,397.9 298.7,399.9 303.1,407.6 306.5,405.6 301.7,397.3 296.7,394.1 290.6,392.8 276.7,392.8 268.3,392.0 262.7,390.8 257.1,386.7 252.1,381.7 246.4,374.5 241.3,366.4 237.1,358.7 233.5,351.0 231.2,343.5 228.7,335.5 226.5,327.6 224.8,319.7 224.0,313.9 223.4,306.9 222.8,298.9 222.0,290.9 221.1,284.7 217.7,278.9 214.8,286.7 213.4,293.8 212.3,301.9 211.5,309.9 210.8,317.9 210.2,325.9 209.3,333.8 208.1,341.7 206.3,348.6 203.6,355.3 200.3,361.3 196.0,367.4 191.6,373.0 186.9,379.4 182.6,384.9 177.2,390.2 170.9,395.6 164.7,399.9 158.5,402.2 150.5,402.0 146.5,400.8 141.3,399.7 135.2,399.0 128.8,400.1 123.7,401.7 120.7,402.6 119.3,402.7 117.8,401.9 114.8,398.5 111.1,393.7 106.3,388.3 98.8,384.3 90.7,383.5 81.8,385.4 74.5,389.8 68.8,394.8 63.9,400.4 58.6,407.0 54.4,413.5 48.5,419.1 43.7,426.1 40.2,434.0" fill="#7a7a7a" fill-opacity="0.72"/>
<circle cx="45.7" cy="436.4" r="6.00" fill="#7a7a7a" fill-opacity="0.72"/>
<circle cx="304.8" cy="406.6" r="2.00" fill="#7a7a7a" fill-opacity="0.72"/>
<polygon points="51.2,438.8 54.3,431.9 57.5,426.9 63.6,421.3 68.4,414.0 73.1,408.0 77.2,403.2 81.5,399.6 86.2,396.6 91.7,395.5 95.2,395.7 98.9,397.7 101.9,401.3 105.6,406.1 110.2,411.1 116.3,414.3 122.3,414.4 127.1,413.3 131.2,411.9 134.6,412.0 137.7,413.3 142.3,415.2 149.5,417.0 161.5,415.8 171.3,411.1 179.1,404.4 184.8,396.8 189.4,390.1 193.1,383.6 197.4,377.0 201.0,370.6 204.7,363.7 207.4,356.7 209.3,349.4 210.9,342.3 211.9,334.2 212.6,326.1 213.2,318.1 213.9,310.1 214.7,302.1 215.8,294.2 217.2,287.3 218.7,281.1 218.7,285.3 219.6,291.1 220.2,299.1 220.6,307.1 221.0,314.1 221.6,320.3 223.1,328.4 225.3,336.5 227.8,344.5 230.3,352.2 233.9,360.3 238.3,368.2 243.6,376.5 249.5,384.1 254.9,389.3 261.1,394.2 267.7,396.0 276.5,396.8 290.4,396.8 295.3,397.9 298.7,399.9 303.1,407.6 306.5,405.6 301.7,397.3 296.7,394.1 290.6,392.8 276.7,392.8 268.3,392.0 262.7,390.8 257.1,386.7 252.1,381.7 246.4,374.5 241.3,366.4 237.1,358.7 233.5,351.0 231.2,343.5 228.7,335.5 226.5,327.6 224.8,319.7 224.0,313.9 223.4,306.9 222.8,298.9 222.0,290.9 221.1,284.7 217.7,278.9 214.8,286.7 213.4,293.8 212.3,301.9 211.5,309.9 210.8,317.9 210.2,325.9 209.3,333.8 208.1,341.7 206.3,348.6 203.6,355.3 200.3,361.3 196.0,367.4 191.6,373.0 186.9,379.4 182.6,384.9 177.2,390.2 170.9,395.6 164.7,399.9 158.5,402.2 150.5,402.0 146.5,400.8 141.3,399.7 135.2,399.0 128.8,400.1 123.7,401.7 120.7,402.6 119.3,402.7 117.8,401.9 114.8,398.5 111.1,393.7 106.3,388.3 98.8,384.3 90.7,383.5 81.8,385.4 74.5,389.8 68.8,394.8 63.9,400.4 58.6,407.0 54.4,413.5 48.5,419.1 43.7,426.1 40.2,434.0" fill="url(#hk)"/>
<polygon points="48.2,437.5 51.4,430.3 55.0,424.8 61.1,419.1 65.7,412.1 70.6,405.9 74.9,400.9 79.6,396.9 85.0,393.5 91.4,392.2 96.2,392.6 100.9,395.1 104.4,399.2 108.1,404.0 112.3,408.6 117.1,411.1 121.9,411.2 126.2,410.1 130.6,408.6 134.7,408.4 138.7,409.5 143.5,411.2 149.8,412.9 160.7,412.1 169.5,408.0 176.8,402.0 182.7,395.0 187.5,388.6 191.4,382.4 195.8,375.9 199.6,369.7 203.5,363.0 206.3,356.3 208.5,349.2 210.1,342.1 211.2,334.1 212.0,326.0 212.5,318.0 213.2,310.1 214.0,302.1 215.1,294.1 216.5,287.1 218.4,280.5 219.4,285.1 220.2,291.1 220.9,299.0 221.4,307.0 221.8,314.1 222.5,320.1 224.1,328.2 226.2,336.2 228.7,344.2 231.2,351.9 234.8,359.9 239.1,367.7 244.4,376.0 250.2,383.4 255.5,388.6 261.5,393.3 267.9,394.9 276.6,395.7 290.4,395.7 295.7,396.8 299.5,399.2 304.0,407.0 305.6,406.2 300.9,398.0 296.3,395.2 290.6,393.9 276.6,393.9 268.1,393.1 262.3,391.7 256.5,387.4 251.4,382.4 245.6,375.0 240.5,366.9 236.2,359.1 232.6,351.3 230.3,343.8 227.8,335.8 225.5,327.8 223.9,319.9 223.2,313.9 222.6,307.0 222.1,299.0 221.4,290.9 220.4,284.9 218.0,279.5 215.5,286.9 214.1,293.9 213.0,301.9 212.2,309.9 211.5,318.0 210.8,326.0 210.0,333.9 208.9,341.9 207.1,348.8 204.7,355.7 201.5,362.0 197.4,368.3 193.2,374.1 188.6,380.6 184.5,386.4 179.3,392.0 173.2,398.0 166.5,403.0 159.3,405.9 150.2,406.1 145.3,404.8 140.3,403.5 135.1,402.6 129.4,403.4 124.6,404.9 121.1,405.8 118.5,405.9 115.7,404.4 112.3,400.6 108.6,395.8 104.3,390.9 97.8,387.4 91.0,386.8 83.0,388.5 76.4,392.5 71.1,397.1 66.4,402.5 61.3,408.9 56.9,415.7 51.0,421.2 46.6,427.7 43.2,435.3" fill="#3a3a3a" fill-opacity="0.7"/>
<circle cx="45.7" cy="436.4" r="2.70" fill="#3a3a3a" fill-opacity="0.7"/>
<circle cx="304.8" cy="406.6" r="0.90" fill="#3a3a3a" fill-opacity="0.7"/>
<polygon points="102.9,444.7 107.3,434.9 112.3,425.8 116.9,414.7 121.8,405.1 125.7,397.3 129.8,392.0 132.7,388.0 133.3,387.5 132.4,387.5 131.6,387.3 133.5,389.7 137.4,393.5 141.4,396.9 145.4,400.8 150.8,405.4 156.6,409.2 162.8,411.7 169.7,413.0 177.5,412.3 185.7,409.3 192.3,402.9 198.1,397.2 203.0,390.4 206.4,382.9 208.0,376.4 208.7,370.2 208.9,365.4 206.1,364.6 203.9,368.8 201.0,373.6 197.6,378.1 193.0,383.6 188.9,388.8 183.7,393.1 178.3,396.7 174.5,397.7 170.3,398.0 167.2,397.3 163.4,395.8 159.2,393.6 154.6,390.2 151.2,387.1 148.6,383.5 145.5,379.3 141.4,374.7 133.6,371.5 125.7,373.5 120.3,378.0 117.2,384.0 113.3,390.7 110.0,399.5 105.1,409.3 100.5,420.2 95.7,429.1 91.1,439.3" fill="#f47a6a" fill-opacity="0.72"/>
<circle cx="97.0" cy="442.0" r="6.50" fill="#f47a6a" fill-opacity="0.72"/>
<circle cx="207.5" cy="365.0" r="1.50" fill="#f47a6a" fill-opacity="0.72"/>
<polygon points="102.9,444.7 107.3,434.9 112.3,425.8 116.9,414.7 121.8,405.1 125.7,397.3 129.8,392.0 132.7,388.0 133.3,387.5 132.4,387.5 131.6,387.3 133.5,389.7 137.4,393.5 141.4,396.9 145.4,400.8 150.8,405.4 156.6,409.2 162.8,411.7 169.7,413.0 177.5,412.3 185.7,409.3 192.3,402.9 198.1,397.2 203.0,390.4 206.4,382.9 208.0,376.4 208.7,370.2 208.9,365.4 206.1,364.6 203.9,368.8 201.0,373.6 197.6,378.1 193.0,383.6 188.9,388.8 183.7,393.1 178.3,396.7 174.5,397.7 170.3,398.0 167.2,397.3 163.4,395.8 159.2,393.6 154.6,390.2 151.2,387.1 148.6,383.5 145.5,379.3 141.4,374.7 133.6,371.5 125.7,373.5 120.3,378.0 117.2,384.0 113.3,390.7 110.0,399.5 105.1,409.3 100.5,420.2 95.7,429.1 91.1,439.3" fill="url(#hr)"/>
<polygon points="99.7,443.2 104.1,433.3 109.0,424.3 113.7,413.2 118.5,403.5 122.3,395.5 126.3,389.8 129.3,385.2 131.2,383.7 132.7,383.1 134.3,383.9 136.8,386.9 140.5,390.8 144.1,394.2 147.9,397.9 153.1,402.2 158.5,405.5 164.0,407.7 169.8,408.9 176.7,408.3 183.6,405.8 189.9,400.2 195.6,394.9 200.2,388.5 204.0,381.6 206.1,375.6 207.4,369.8 208.2,365.2 206.8,364.8 205.2,369.2 202.9,374.4 200.0,379.4 195.8,385.5 191.4,391.1 186.1,395.8 180.4,400.2 175.3,401.7 170.2,402.1 166.0,401.3 161.5,399.5 156.9,396.8 152.1,393.1 148.5,389.8 145.5,386.2 142.2,382.1 138.7,378.1 133.3,375.9 127.8,377.3 123.7,380.8 120.7,386.2 116.7,392.5 113.3,401.1 108.3,410.8 103.8,421.7 98.9,430.7 94.3,440.8" fill="#e4362c" fill-opacity="0.7"/>
<circle cx="97.0" cy="442.0" r="2.93" fill="#e4362c" fill-opacity="0.7"/>
<circle cx="207.5" cy="365.0" r="0.68" fill="#e4362c" fill-opacity="0.7"/>
<polygon points="232.7,376.7 234.2,383.2 237.0,390.5 241.7,397.6 247.7,403.9 255.1,410.2 262.8,415.1 271.9,419.9 279.2,422.8 286.3,424.0 293.8,424.5 300.4,424.4 302.7,426.1 309.3,414.9 303.0,411.6 294.2,411.5 287.7,411.0 282.8,410.2 277.3,408.1 269.2,403.9 262.9,399.8 256.3,394.1 250.3,389.4 245.0,384.5 239.8,379.8 235.3,375.3" fill="#f47a6a" fill-opacity="0.72"/>
<circle cx="234.0" cy="376.0" r="1.50" fill="#f47a6a" fill-opacity="0.72"/>
<circle cx="306.0" cy="420.5" r="6.50" fill="#f47a6a" fill-opacity="0.72"/>
<polygon points="232.7,376.7 234.2,383.2 237.0,390.5 241.7,397.6 247.7,403.9 255.1,410.2 262.8,415.1 271.9,419.9 279.2,422.8 286.3,424.0 293.8,424.5 300.4,424.4 302.7,426.1 309.3,414.9 303.0,411.6 294.2,411.5 287.7,411.0 282.8,410.2 277.3,408.1 269.2,403.9 262.9,399.8 256.3,394.1 250.3,389.4 245.0,384.5 239.8,379.8 235.3,375.3" fill="url(#hr)"/>
<polygon points="233.4,376.3 235.8,382.3 239.2,388.9 244.0,395.4 250.1,401.2 257.2,407.3 264.5,412.0 273.4,416.7 280.2,419.3 286.7,420.4 293.9,420.9 301.1,420.9 304.5,423.0 307.5,418.0 302.3,415.1 294.1,415.1 287.3,414.6 281.8,413.7 275.8,411.3 267.5,407.0 260.8,402.7 253.9,396.8 248.0,391.6 242.8,386.1 238.2,380.7 234.6,375.7" fill="#e4362c" fill-opacity="0.7"/>
<circle cx="234.0" cy="376.0" r="0.68" fill="#e4362c" fill-opacity="0.7"/>
<circle cx="306.0" cy="420.5" r="2.93" fill="#e4362c" fill-opacity="0.7"/>
<polygon points="50.6,447.1 54.4,441.3 59.3,435.5 63.0,430.8 66.7,427.5 70.6,425.4 74.1,424.4 77.1,423.8 79.3,425.0 82.9,428.1 85.4,434.0 87.8,441.5 88.6,445.2 99.4,442.8 98.4,438.5 95.6,430.0 91.9,421.9 85.7,416.0 78.9,413.0 71.9,413.6 66.4,415.2 60.3,418.5 55.0,423.2 50.7,428.5 45.6,434.7 41.4,440.9" fill="#7b7bcf" fill-opacity="0.72"/>
<circle cx="46.0" cy="444.0" r="5.50" fill="#7b7bcf" fill-opacity="0.72"/>
<circle cx="94.0" cy="444.0" r="5.50" fill="#7b7bcf" fill-opacity="0.72"/>
<polygon points="50.6,447.1 54.4,441.3 59.3,435.5 63.0,430.8 66.7,427.5 70.6,425.4 74.1,424.4 77.1,423.8 79.3,425.0 82.9,428.1 85.4,434.0 87.8,441.5 88.6,445.2 99.4,442.8 98.4,438.5 95.6,430.0 91.9,421.9 85.7,416.0 78.9,413.0 71.9,413.6 66.4,415.2 60.3,418.5 55.0,423.2 50.7,428.5 45.6,434.7 41.4,440.9" fill="url(#hb)"/>
<polygon points="48.1,445.4 52.0,439.5 56.9,433.6 60.8,428.7 64.9,425.0 69.5,422.6 73.5,421.4 77.6,420.8 81.1,422.5 85.4,426.4 88.2,432.9 90.7,440.7 91.6,444.5 96.4,443.5 95.5,439.3 92.8,431.1 89.4,423.6 83.9,418.5 78.4,416.0 72.5,416.6 67.5,418.0 62.1,421.0 57.2,425.3 53.1,430.4 48.0,436.5 43.9,442.6" fill="#3c3cae" fill-opacity="0.7"/>
<circle cx="46.0" cy="444.0" r="2.48" fill="#3c3cae" fill-opacity="0.7"/>
<circle cx="94.0" cy="444.0" r="2.48" fill="#3c3cae" fill-opacity="0.7"/>
<polygon points="133.4,446.3 135.8,435.5 139.0,425.8 142.2,415.9 145.2,405.9 148.3,397.0 151.2,388.1 153.7,380.6 155.9,376.3 156.9,374.8 154.8,375.4 154.2,375.1 155.8,377.7 158.4,382.4 161.8,387.4 168.4,391.3 176.0,390.9 181.8,389.2 187.4,387.2 192.8,385.1 198.9,382.8 204.4,378.0 207.6,370.7 209.4,363.2 210.9,355.9 212.0,348.4 212.4,341.2 212.6,333.1 213.0,325.1 213.5,317.1 214.2,309.1 214.9,301.1 216.1,293.2 217.6,286.3 218.8,280.9 218.5,284.2 219.4,291.1 220.0,299.1 220.4,306.1 220.7,313.1 221.0,320.1 221.7,328.3 222.9,336.4 224.4,344.6 226.2,352.0 228.3,360.0 230.9,368.3 234.5,376.3 239.2,384.2 245.2,391.5 252.1,395.8 258.1,400.4 266.1,404.6 279.2,407.5 292.1,407.4 295.9,408.8 297.3,410.5 300.6,414.6 311.4,407.4 308.7,402.5 304.1,396.2 293.9,392.6 280.8,392.5 270.9,390.4 265.9,387.6 259.9,384.2 254.8,380.5 249.8,375.8 244.5,369.7 239.7,363.7 235.7,357.0 231.8,350.0 229.2,343.4 227.1,335.6 225.3,327.7 224.2,319.9 223.7,312.9 223.2,305.9 222.6,298.9 221.8,290.9 220.7,283.8 217.6,279.1 215.4,285.7 213.9,292.8 212.7,300.9 211.8,308.9 211.1,316.9 210.6,324.9 210.0,332.9 209.2,340.8 207.6,347.6 205.1,354.1 201.6,359.8 197.4,365.3 193.6,369.0 191.1,371.2 187.2,373.9 182.6,376.8 178.2,378.8 174.0,380.1 171.0,380.7 172.2,379.6 170.6,375.6 167.8,370.3 163.8,364.9 157.2,361.6 149.1,363.2 144.1,368.7 140.7,375.4 137.8,383.9 135.3,393.0 132.8,402.1 129.8,412.1 127.0,422.2 124.2,432.5 121.6,443.7" fill="#7b7bcf" fill-opacity="0.72"/>
<circle cx="127.5" cy="445.0" r="6.00" fill="#7b7bcf" fill-opacity="0.72"/>
<circle cx="306.0" cy="411.0" r="6.50" fill="#7b7bcf" fill-opacity="0.72"/>
<polygon points="133.4,446.3 135.8,435.5 139.0,425.8 142.2,415.9 145.2,405.9 148.3,397.0 151.2,388.1 153.7,380.6 155.9,376.3 156.9,374.8 154.8,375.4 154.2,375.1 155.8,377.7 158.4,382.4 161.8,387.4 168.4,391.3 176.0,390.9 181.8,389.2 187.4,387.2 192.8,385.1 198.9,382.8 204.4,378.0 207.6,370.7 209.4,363.2 210.9,355.9 212.0,348.4 212.4,341.2 212.6,333.1 213.0,325.1 213.5,317.1 214.2,309.1 214.9,301.1 216.1,293.2 217.6,286.3 218.8,280.9 218.5,284.2 219.4,291.1 220.0,299.1 220.4,306.1 220.7,313.1 221.0,320.1 221.7,328.3 222.9,336.4 224.4,344.6 226.2,352.0 228.3,360.0 230.9,368.3 234.5,376.3 239.2,384.2 245.2,391.5 252.1,395.8 258.1,400.4 266.1,404.6 279.2,407.5 292.1,407.4 295.9,408.8 297.3,410.5 300.6,414.6 311.4,407.4 308.7,402.5 304.1,396.2 293.9,392.6 280.8,392.5 270.9,390.4 265.9,387.6 259.9,384.2 254.8,380.5 249.8,375.8 244.5,369.7 239.7,363.7 235.7,357.0 231.8,350.0 229.2,343.4 227.1,335.6 225.3,327.7 224.2,319.9 223.7,312.9 223.2,305.9 222.6,298.9 221.8,290.9 220.7,283.8 217.6,279.1 215.4,285.7 213.9,292.8 212.7,300.9 211.8,308.9 211.1,316.9 210.6,324.9 210.0,332.9 209.2,340.8 207.6,347.6 205.1,354.1 201.6,359.8 197.4,365.3 193.6,369.0 191.1,371.2 187.2,373.9 182.6,376.8 178.2,378.8 174.0,380.1 171.0,380.7 172.2,379.6 170.6,375.6 167.8,370.3 163.8,364.9 157.2,361.6 149.1,363.2 144.1,368.7 140.7,375.4 137.8,383.9 135.3,393.0 132.8,402.1 129.8,412.1 127.0,422.2 124.2,432.5 121.6,443.7" fill="url(#hb)"/>
<polygon points="130.1,445.6 132.6,434.7 135.7,424.8 138.8,414.8 141.8,404.9 144.7,395.9 147.5,387.0 150.1,379.2 152.6,374.2 154.7,371.6 155.5,371.6 156.8,372.3 159.1,375.6 161.7,380.5 164.7,385.2 169.1,388.4 175.5,387.9 180.8,386.3 186.1,384.4 191.3,382.0 196.7,379.6 201.4,375.5 204.8,369.2 207.3,362.2 209.3,355.4 210.8,348.2 211.5,341.1 211.9,333.0 212.4,325.0 212.8,317.0 213.5,309.1 214.3,301.1 215.5,293.1 217.0,286.1 218.5,280.4 219.1,284.1 220.1,291.1 220.7,299.0 221.2,306.0 221.5,313.0 221.9,320.1 222.7,328.1 224.1,336.2 225.7,344.3 227.7,351.5 230.3,359.2 233.3,367.0 237.2,374.5 242.1,381.9 247.9,388.5 254.3,392.6 260.3,396.9 267.4,400.7 279.7,403.4 292.6,403.3 298.2,405.3 300.4,408.3 303.6,412.6 308.4,409.4 305.6,404.7 301.8,399.7 293.4,396.7 280.3,396.6 269.6,394.3 263.7,391.1 257.7,387.4 252.1,383.5 246.9,378.1 241.8,371.5 237.3,365.0 233.7,357.8 230.3,350.5 227.9,343.7 225.9,335.8 224.3,327.9 223.3,319.9 222.9,313.0 222.4,306.0 221.9,299.0 221.1,290.9 220.1,283.9 217.9,279.6 216.0,285.9 214.5,292.9 213.3,300.9 212.5,308.9 211.8,317.0 211.2,325.0 210.7,333.0 210.1,340.9 208.8,347.8 206.7,354.6 203.7,360.8 200.2,366.8 196.6,371.5 193.3,374.4 188.7,377.0 183.9,379.6 179.2,381.7 174.5,383.1 170.3,383.6 169.3,381.8 167.3,377.5 164.5,372.4 161.2,367.7 156.5,365.4 151.3,366.4 147.4,370.8 144.3,376.8 141.5,385.0 138.9,394.1 136.2,403.1 133.2,413.2 130.3,423.2 127.4,433.3 124.9,444.4" fill="#3c3cae" fill-opacity="0.7"/>
<circle cx="127.5" cy="445.0" r="2.70" fill="#3c3cae" fill-opacity="0.7"/>
<circle cx="306.0" cy="411.0" r="2.93" fill="#3c3cae" fill-opacity="0.7"/>
<polygon points="223.0,325.0 223.1,340.0 224.7,340.0 224.6,325.0" fill="#7a7a7a" fill-opacity="0.72"/>
<circle cx="223.8" cy="325.0" r="0.80" fill="#7a7a7a" fill-opacity="0.72"/>
<circle cx="223.9" cy="340.0" r="0.80" fill="#7a7a7a" fill-opacity="0.72"/>
<polygon points="223.2,325.0 223.3,340.0 224.5,340.0 224.4,325.0" fill="#3a3a3a" fill-opacity="0.7"/>
<circle cx="223.8" cy="325.0" r="0.64" fill="#3a3a3a" fill-opacity="0.7"/>
<circle cx="223.9" cy="340.0" r="0.64" fill="#3a3a3a" fill-opacity="0.7"/>
</g>
<g clip-path="url(#cd)">
<polygon points="440.2,432.8 444.5,427.9 451.3,423.1 457.8,414.8 463.7,407.7 469.5,401.1 474.9,395.8 478.3,393.9 479.3,392.9 483.1,393.3 488.8,395.1 498.6,397.4 509.7,398.0 520.2,397.7 528.9,397.2 537.6,395.4 545.1,391.4 552.3,384.7 557.4,377.6 561.7,368.1 564.1,357.1 566.3,345.2 568.6,337.2 570.4,328.8 572.0,320.7 573.3,312.6 574.7,304.6 575.9,297.6 577.2,290.7 578.3,287.3 576.5,287.1 577.3,289.6 578.3,297.4 579.2,305.4 580.3,313.4 581.2,321.5 582.2,329.6 583.2,337.5 584.1,347.8 586.3,356.8 589.6,366.4 594.4,374.6 600.2,382.4 606.0,389.2 612.4,395.6 619.0,400.6 626.4,404.8 633.7,408.5 640.7,411.5 647.7,415.0 654.8,418.0 662.3,421.5 666.9,411.5 659.2,408.0 652.3,405.0 645.3,401.5 638.3,398.5 631.6,395.2 625.0,391.4 619.6,387.4 614.0,381.8 608.8,375.6 603.6,368.4 599.4,361.6 595.7,353.2 591.9,346.2 591.2,336.5 589.0,328.4 587.6,320.5 586.3,312.6 585.2,304.6 583.7,296.6 582.1,288.4 579.5,283.9 574.7,284.7 572.4,289.3 570.5,296.4 568.9,303.4 567.5,311.4 565.6,319.3 563.6,327.2 561.0,334.8 557.7,342.8 554.9,354.9 551.5,363.9 546.6,370.4 541.9,375.3 536.9,380.6 533.2,382.6 527.1,383.8 519.8,384.3 510.3,384.0 501.4,382.6 493.8,379.9 486.9,376.7 477.1,376.1 469.7,379.1 463.9,383.4 457.5,390.5 451.7,397.9 445.8,405.8 440.7,413.9 435.5,420.1 431.8,427.2" fill="#7a7a7a" fill-opacity="0.72"/>
<circle cx="436.0" cy="430.0" r="5.00" fill="#7a7a7a" fill-opacity="0.72"/>
<circle cx="664.6" cy="416.5" r="5.50" fill="#7a7a7a" fill-opacity="0.72"/>
<polygon points="440.2,432.8 444.5,427.9 451.3,423.1 457.8,414.8 463.7,407.7 469.5,401.1 474.9,395.8 478.3,393.9 479.3,392.9 483.1,393.3 488.8,395.1 498.6,397.4 509.7,398.0 520.2,397.7 528.9,397.2 537.6,395.4 545.1,391.4 552.3,384.7 557.4,377.6 561.7,368.1 564.1,357.1 566.3,345.2 568.6,337.2 570.4,328.8 572.0,320.7 573.3,312.6 574.7,304.6 575.9,297.6 577.2,290.7 578.3,287.3 576.5,287.1 577.3,289.6 578.3,297.4 579.2,305.4 580.3,313.4 581.2,321.5 582.2,329.6 583.2,337.5 584.1,347.8 586.3,356.8 589.6,366.4 594.4,374.6 600.2,382.4 606.0,389.2 612.4,395.6 619.0,400.6 626.4,404.8 633.7,408.5 640.7,411.5 647.7,415.0 654.8,418.0 662.3,421.5 666.9,411.5 659.2,408.0 652.3,405.0 645.3,401.5 638.3,398.5 631.6,395.2 625.0,391.4 619.6,387.4 614.0,381.8 608.8,375.6 603.6,368.4 599.4,361.6 595.7,353.2 591.9,346.2 591.2,336.5 589.0,328.4 587.6,320.5 586.3,312.6 585.2,304.6 583.7,296.6 582.1,288.4 579.5,283.9 574.7,284.7 572.4,289.3 570.5,296.4 568.9,303.4 567.5,311.4 565.6,319.3 563.6,327.2 561.0,334.8 557.7,342.8 554.9,354.9 551.5,363.9 546.6,370.4 541.9,375.3 536.9,380.6 533.2,382.6 527.1,383.8 519.8,384.3 510.3,384.0 501.4,382.6 493.8,379.9 486.9,376.7 477.1,376.1 469.7,379.1 463.9,383.4 457.5,390.5 451.7,397.9 445.8,405.8 440.7,413.9 435.5,420.1 431.8,427.2" fill="url(#hk)"/>
<polygon points="437.9,431.2 442.0,425.8 448.4,420.6 454.5,412.3 460.4,405.0 466.2,398.2 471.9,392.4 475.9,389.8 478.7,388.3 484.1,388.7 490.2,390.9 499.4,393.3 509.8,394.1 520.1,394.0 528.4,393.5 536.4,391.9 542.9,388.4 549.4,382.1 554.4,375.6 558.9,367.0 561.6,356.5 564.0,344.5 566.5,336.5 568.5,328.4 570.2,320.3 571.7,312.2 573.1,304.2 574.4,297.3 575.9,290.3 577.3,286.6 577.3,286.2 578.6,289.3 579.8,297.2 580.9,305.2 582.0,313.2 583.0,321.2 584.0,329.3 585.4,337.2 586.2,347.4 588.9,355.8 592.3,365.1 596.9,372.9 602.6,380.5 608.2,387.2 614.4,393.4 620.6,398.1 627.8,402.2 635.0,405.7 642.0,408.7 649.0,412.2 656.0,415.3 663.6,418.7 665.6,414.3 658.0,410.7 651.0,407.8 644.0,404.3 637.0,401.3 630.2,397.8 623.4,393.9 617.6,389.6 611.8,383.8 606.4,377.5 601.1,370.1 596.7,362.9 593.1,354.2 589.8,346.6 589.0,336.8 587.2,328.7 585.8,320.8 584.6,312.8 583.5,304.8 582.2,296.8 580.8,288.7 578.7,284.8 575.7,285.4 573.7,289.7 572.0,296.7 570.5,303.8 569.1,311.8 567.4,319.7 565.5,327.6 563.1,335.5 560.0,343.5 557.4,355.5 554.3,365.0 549.6,372.4 544.8,377.9 539.1,383.6 534.4,386.1 527.6,387.5 519.9,388.0 510.2,387.9 500.6,386.7 492.4,384.1 485.9,381.3 477.7,380.7 472.1,383.2 466.9,386.8 460.8,393.4 455.0,400.6 449.1,408.3 443.6,416.4 438.0,422.2 434.1,428.8" fill="#3a3a3a" fill-opacity="0.7"/>
<circle cx="436.0" cy="430.0" r="2.25" fill="#3a3a3a" fill-opacity="0.7"/>
<circle cx="664.6" cy="416.5" r="2.48" fill="#3a3a3a" fill-opacity="0.7"/>
<polygon points="408.1,444.9 411.5,441.1 415.8,436.6 420.3,433.1 425.1,430.1 427.9,428.8 430.6,428.5 432.8,429.0 435.8,430.7 440.5,434.5 445.8,438.2 450.7,441.2 457.8,443.5 467.0,442.2 474.6,439.1 480.5,434.6 485.2,428.2 489.3,421.8 493.0,412.8 495.5,406.3 498.0,398.7 500.0,391.4 502.5,384.3 505.2,378.2 508.2,373.4 510.9,371.1 509.5,370.6 511.6,372.9 516.6,376.1 522.7,379.1 529.1,380.4 537.2,381.0 545.8,379.8 553.8,375.8 559.9,368.0 563.3,357.5 566.9,344.8 569.2,336.8 571.0,328.4 572.6,320.2 573.9,312.1 575.3,304.1 576.5,297.1 577.8,289.2 578.8,286.1 576.1,286.0 576.7,288.1 577.7,296.9 578.6,304.9 579.7,312.9 580.6,320.9 581.6,329.1 582.6,337.1 584.6,352.8 586.3,361.8 589.6,371.6 595.0,380.8 600.2,388.2 605.4,394.3 610.6,400.5 615.6,405.5 621.9,410.3 628.8,413.9 636.2,417.5 643.1,420.2 650.0,422.1 655.1,424.8 661.6,428.5 667.6,418.1 660.9,414.2 654.4,410.9 646.9,408.8 641.0,406.5 634.2,403.1 628.3,400.1 623.4,396.5 619.4,392.5 614.6,386.7 609.8,380.8 605.0,374.2 600.4,366.4 596.7,358.2 593.4,351.2 591.8,335.7 589.6,327.7 588.2,319.9 586.9,311.9 585.8,303.9 584.3,295.9 582.7,286.7 579.9,281.8 574.2,282.7 571.8,287.6 569.9,295.7 568.3,302.7 566.9,310.7 565.0,318.6 563.0,326.4 560.4,334.0 557.1,342.0 554.3,354.5 550.1,362.0 546.2,365.2 542.2,366.2 536.8,367.0 530.9,366.6 527.3,365.9 523.4,363.9 520.4,362.1 514.5,356.4 503.9,357.9 496.8,363.6 492.0,371.0 488.5,378.7 485.6,387.0 483.6,394.3 481.3,401.3 479.0,407.2 475.9,415.0 472.8,419.8 469.5,424.4 467.4,425.9 463.0,427.8 458.4,428.5 457.3,427.8 454.2,425.8 449.5,422.5 444.2,418.3 438.2,415.0 431.4,413.5 424.1,414.2 417.9,416.9 411.7,420.9 405.8,425.4 400.5,430.9 396.9,435.1" fill="#f47a6a" fill-opacity="0.72"/>
<circle cx="402.5" cy="440.0" r="7.50" fill="#f47a6a" fill-opacity="0.72"/>
<circle cx="664.6" cy="423.3" r="6.00" fill="#f47a6a" fill-opacity="0.72"/>
<polygon points="408.1,444.9 411.5,441.1 415.8,436.6 420.3,433.1 425.1,430.1 427.9,428.8 430.6,428.5 432.8,429.0 435.8,430.7 440.5,434.5 445.8,438.2 450.7,441.2 457.8,443.5 467.0,442.2 474.6,439.1 480.5,434.6 485.2,428.2 489.3,421.8 493.0,412.8 495.5,406.3 498.0,398.7 500.0,391.4 502.5,384.3 505.2,378.2 508.2,373.4 510.9,371.1 509.5,370.6 511.6,372.9 516.6,376.1 522.7,379.1 529.1,380.4 537.2,381.0 545.8,379.8 553.8,375.8 559.9,368.0 563.3,357.5 566.9,344.8 569.2,336.8 571.0,328.4 572.6,320.2 573.9,312.1 575.3,304.1 576.5,297.1 577.8,289.2 578.8,286.1 576.1,286.0 576.7,288.1 577.7,296.9 578.6,304.9 579.7,312.9 580.6,320.9 581.6,329.1 582.6,337.1 584.6,352.8 586.3,361.8 589.6,371.6 595.0,380.8 600.2,388.2 605.4,394.3 610.6,400.5 615.6,405.5 621.9,410.3 628.8,413.9 636.2,417.5 643.1,420.2 650.0,422.1 655.1,424.8 661.6,428.5 667.6,418.1 660.9,414.2 654.4,410.9 646.9,408.8 641.0,406.5 634.2,403.1 628.3,400.1 623.4,396.5 619.4,392.5 614.6,386.7 609.8,380.8 605.0,374.2 600.4,366.4 596.7,358.2 593.4,351.2 591.8,335.7 589.6,327.7 588.2,319.9 586.9,311.9 585.8,303.9 584.3,295.9 582.7,286.7 579.9,281.8 574.2,282.7 571.8,287.6 569.9,295.7 568.3,302.7 566.9,310.7 565.0,318.6 563.0,326.4 560.4,334.0 557.1,342.0 554.3,354.5 550.1,362.0 546.2,365.2 542.2,366.2 536.8,367.0 530.9,366.6 527.3,365.9 523.4,363.9 520.4,362.1 514.5,356.4 503.9,357.9 496.8,363.6 492.0,371.0 488.5,378.7 485.6,387.0 483.6,394.3 481.3,401.3 479.0,407.2 475.9,415.0 472.8,419.8 469.5,424.4 467.4,425.9 463.0,427.8 458.4,428.5 457.3,427.8 454.2,425.8 449.5,422.5 444.2,418.3 438.2,415.0 431.4,413.5 424.1,414.2 417.9,416.9 411.7,420.9 405.8,425.4 400.5,430.9 396.9,435.1" fill="url(#hr)"/>
<polygon points="405.0,442.2 408.5,438.3 413.1,433.5 417.9,429.8 423.1,426.5 426.9,424.8 430.8,424.4 434.3,425.1 438.1,427.3 443.0,431.2 448.1,434.8 452.5,437.5 457.9,439.4 465.9,438.3 472.6,435.5 477.5,431.8 481.8,425.9 485.6,419.9 489.1,411.2 491.6,404.9 494.0,397.5 496.0,390.2 498.6,382.7 501.6,376.2 505.0,370.7 509.0,367.5 510.9,366.7 514.0,369.9 518.5,372.8 524.0,375.5 529.6,376.6 537.1,377.1 544.8,376.0 551.7,372.9 557.2,366.3 560.8,356.7 564.2,344.0 566.8,336.0 568.8,327.8 570.5,319.8 572.0,311.7 573.4,303.7 574.7,296.7 576.1,288.8 577.5,285.1 577.1,284.8 578.3,287.7 579.5,296.6 580.6,304.6 581.7,312.6 582.7,320.6 583.8,328.7 585.2,336.7 587.0,352.4 589.2,360.8 592.6,370.2 597.7,379.0 602.9,386.1 607.9,392.2 613.0,398.3 617.7,403.0 623.7,407.5 630.3,410.9 637.5,414.5 644.2,417.1 651.2,419.0 656.7,421.9 663.3,425.6 665.9,421.0 659.3,417.1 653.2,414.0 645.8,411.9 639.7,409.5 632.7,406.1 626.5,402.9 621.3,399.0 617.0,394.7 612.1,388.8 607.1,382.9 602.3,376.0 597.4,367.8 593.8,359.2 591.0,351.6 589.2,336.1 587.4,328.1 586.1,320.2 584.9,312.2 583.8,304.2 582.5,296.2 581.1,287.1 578.9,283.0 575.5,283.7 573.5,288.0 571.7,296.1 570.2,303.1 568.8,311.1 567.1,319.0 565.2,327.0 562.8,334.8 559.8,342.8 556.8,355.3 552.8,363.7 548.3,368.1 543.2,370.0 536.9,370.9 530.4,370.4 526.0,369.5 521.5,367.2 518.0,365.1 513.1,360.3 505.8,361.5 500.0,366.3 495.6,373.0 492.4,380.3 489.6,388.2 487.6,395.5 485.2,402.7 482.9,408.8 479.6,416.9 476.2,422.1 472.5,427.2 469.4,429.5 464.1,431.7 458.3,432.6 455.5,431.5 451.9,429.2 447.0,425.8 441.9,421.7 436.7,418.9 431.2,417.6 425.1,418.2 419.9,420.5 414.1,424.2 408.5,428.5 403.5,433.7 400.0,437.8" fill="#e4362c" fill-opacity="0.7"/>
<circle cx="402.5" cy="440.0" r="3.38" fill="#e4362c" fill-opacity="0.7"/>
<circle cx="664.6" cy="423.3" r="2.70" fill="#e4362c" fill-opacity="0.7"/>
<polygon points="405.7,444.5 408.6,442.3 412.8,440.6 417.9,438.7 423.2,436.7 428.2,435.4 433.8,434.3 439.6,432.1 445.7,429.3 451.3,425.4 457.2,420.9 461.9,417.2 466.5,415.1 470.2,413.9 472.5,413.5 475.0,414.4 478.7,417.1 483.7,420.0 490.3,422.0 497.0,419.3 502.3,413.6 506.0,403.3 509.2,394.8 512.9,386.4 516.0,379.3 519.0,372.5 522.0,366.6 525.5,362.4 527.9,360.8 527.5,362.0 529.1,362.8 534.6,365.9 541.6,367.5 549.7,366.6 557.3,361.3 561.0,353.4 562.7,348.2 565.9,346.3 568.6,337.2 570.4,328.8 572.0,320.7 573.3,312.6 574.7,304.6 575.9,297.6 577.2,290.7 578.3,287.3 576.5,287.1 577.3,289.6 578.3,297.4 579.2,305.4 580.3,313.4 581.2,321.5 582.2,329.6 583.3,337.8 584.8,346.5 588.1,354.4 592.7,362.6 596.8,368.8 602.0,376.5 608.4,383.9 615.1,390.3 621.4,394.8 627.2,397.9 632.7,400.9 638.3,403.8 643.6,407.6 649.9,411.9 656.6,414.3 663.5,415.9 665.7,406.1 659.4,404.7 654.5,403.1 649.4,399.4 643.5,395.2 637.3,392.1 632.0,389.1 626.6,386.2 621.5,382.7 615.6,377.1 610.0,370.5 605.2,363.2 601.3,357.4 596.9,349.6 593.2,343.5 591.1,336.2 589.0,328.4 587.6,320.5 586.3,312.6 585.2,304.6 583.7,296.6 582.1,288.4 579.5,283.9 574.7,284.7 572.4,289.3 570.5,296.4 568.9,303.4 567.5,311.4 565.6,319.3 563.6,327.2 561.0,334.8 558.1,341.7 556.3,341.8 551.0,346.6 546.7,350.7 544.5,351.4 542.4,351.5 540.8,351.1 535.9,348.2 528.5,346.0 520.1,349.2 515.5,355.6 513.0,362.4 511.0,369.5 509.0,376.7 506.5,383.6 502.8,392.2 499.4,400.7 495.5,409.4 492.0,410.7 490.3,411.0 488.3,410.0 484.7,407.9 480.0,404.6 473.7,402.5 467.8,403.1 462.5,404.9 456.1,407.8 450.4,412.1 444.7,416.6 440.3,419.7 435.4,421.9 430.8,423.7 425.8,424.6 419.8,426.3 414.1,428.3 408.8,430.4 403.4,432.7 399.3,435.5" fill="#7b7bcf" fill-opacity="0.72"/>
<circle cx="402.5" cy="440.0" r="5.50" fill="#7b7bcf" fill-opacity="0.72"/>
<circle cx="664.6" cy="411.0" r="5.00" fill="#7b7bcf" fill-opacity="0.72"/>
<polygon points="405.7,444.5 408.6,442.3 412.8,440.6 417.9,438.7 423.2,436.7 428.2,435.4 433.8,434.3 439.6,432.1 445.7,429.3 451.3,425.4 457.2,420.9 461.9,417.2 466.5,415.1 470.2,413.9 472.5,413.5 475.0,414.4 478.7,417.1 483.7,420.0 490.3,422.0 497.0,419.3 502.3,413.6 506.0,403.3 509.2,394.8 512.9,386.4 516.0,379.3 519.0,372.5 522.0,366.6 525.5,362.4 527.9,360.8 527.5,362.0 529.1,362.8 534.6,365.9 541.6,367.5 549.7,366.6 557.3,361.3 561.0,353.4 562.7,348.2 565.9,346.3 568.6,337.2 570.4,328.8 572.0,320.7 573.3,312.6 574.7,304.6 575.9,297.6 577.2,290.7 578.3,287.3 576.5,287.1 577.3,289.6 578.3,297.4 579.2,305.4 580.3,313.4 581.2,321.5 582.2,329.6 583.3,337.8 584.8,346.5 588.1,354.4 592.7,362.6 596.8,368.8 602.0,376.5 608.4,383.9 615.1,390.3 621.4,394.8 627.2,397.9 632.7,400.9 638.3,403.8 643.6,407.6 649.9,411.9 656.6,414.3 663.5,415.9 665.7,406.1 659.4,404.7 654.5,403.1 649.4,399.4 643.5,395.2 637.3,392.1 632.0,389.1 626.6,386.2 621.5,382.7 615.6,377.1 610.0,370.5 605.2,363.2 601.3,357.4 596.9,349.6 593.2,343.5 591.1,336.2 589.0,328.4 587.6,320.5 586.3,312.6 585.2,304.6 583.7,296.6 582.1,288.4 579.5,283.9 574.7,284.7 572.4,289.3 570.5,296.4 568.9,303.4 567.5,311.4 565.6,319.3 563.6,327.2 561.0,334.8 558.1,341.7 556.3,341.8 551.0,346.6 546.7,350.7 544.5,351.4 542.4,351.5 540.8,351.1 535.9,348.2 528.5,346.0 520.1,349.2 515.5,355.6 513.0,362.4 511.0,369.5 509.0,376.7 506.5,383.6 502.8,392.2 499.4,400.7 495.5,409.4 492.0,410.7 490.3,411.0 488.3,410.0 484.7,407.9 480.0,404.6 473.7,402.5 467.8,403.1 462.5,404.9 456.1,407.8 450.4,412.1 444.7,416.6 440.3,419.7 435.4,421.9 430.8,423.7 425.8,424.6 419.8,426.3 414.1,428.3 408.8,430.4 403.4,432.7 399.3,435.5" fill="url(#hb)"/>
<polygon points="403.9,442.0 407.2,439.7 411.7,437.8 416.9,435.8 422.3,433.9 427.6,432.4 433.0,431.4 438.5,429.3 444.2,426.6 449.5,423.0 455.3,418.5 460.3,414.6 465.4,412.3 469.6,410.9 472.8,410.5 476.4,411.7 480.4,414.6 485.0,417.2 490.3,419.0 495.6,416.9 500.4,412.5 504.2,402.6 507.5,394.1 511.2,385.6 514.1,378.6 516.8,371.7 519.5,365.4 522.7,360.5 525.7,357.6 527.8,357.6 531.0,358.8 536.3,361.8 541.8,363.1 548.3,362.4 554.4,358.4 558.2,351.5 560.9,346.4 563.7,345.0 566.5,336.5 568.5,328.4 570.2,320.3 571.7,312.2 573.1,304.2 574.4,297.3 575.9,290.3 577.3,286.6 577.3,286.2 578.6,289.3 579.8,297.2 580.9,305.2 582.0,313.2 583.0,321.2 584.0,329.3 585.4,337.4 587.1,345.7 590.5,353.1 595.1,361.2 599.1,367.2 604.2,374.9 610.4,382.0 616.9,388.2 622.8,392.4 628.5,395.5 633.9,398.5 639.7,401.4 645.2,405.3 651.2,409.5 657.4,411.7 664.1,413.2 665.1,408.8 658.6,407.3 653.2,405.5 647.8,401.7 642.1,397.6 636.1,394.5 630.7,391.5 625.2,388.6 619.7,384.8 613.6,379.0 607.8,372.1 602.9,364.8 598.9,358.8 594.5,350.9 590.9,344.3 589.0,336.6 587.2,328.7 585.8,320.8 584.6,312.8 583.5,304.8 582.2,296.8 580.8,288.7 578.7,284.8 575.7,285.4 573.7,289.7 572.0,296.7 570.5,303.8 569.1,311.8 567.4,319.7 565.5,327.6 563.1,335.5 560.3,343.0 558.1,343.6 553.8,348.5 549.6,353.6 545.9,355.6 542.2,355.9 539.1,355.2 534.0,352.2 528.2,350.4 522.3,352.4 518.3,357.5 515.5,363.6 513.2,370.3 510.9,377.4 508.2,384.4 504.5,392.9 501.2,401.4 497.4,410.5 493.4,413.1 490.3,414.0 487.0,412.8 483.0,410.4 478.6,407.3 473.4,405.5 468.4,406.1 463.6,407.7 457.7,410.4 452.3,414.5 446.5,419.0 441.8,422.4 436.5,424.7 431.6,426.6 426.4,427.6 420.7,429.1 415.1,431.2 409.9,433.2 404.8,435.3 401.1,438.0" fill="#3c3cae" fill-opacity="0.7"/>
<circle cx="402.5" cy="440.0" r="2.48" fill="#3c3cae" fill-opacity="0.7"/>
<circle cx="664.6" cy="411.0" r="2.25" fill="#3c3cae" fill-opacity="0.7"/>
<polygon points="576.8,293.0 576.6,305.0 576.7,318.0 576.9,337.5 578.9,337.5 578.7,318.0 578.6,305.0 578.8,293.0" fill="#7b7bcf" fill-opacity="0.72"/>
<circle cx="577.8" cy="293.0" r="1.00" fill="#7b7bcf" fill-opacity="0.72"/>
<circle cx="577.9" cy="337.5" r="1.00" fill="#7b7bcf" fill-opacity="0.72"/>
<polygon points="577.0,293.0 576.8,305.0 576.9,318.0 577.1,337.5 578.7,337.5 578.5,318.0 578.4,305.0 578.6,293.0" fill="#3c3cae" fill-opacity="0.7"/>
<circle cx="577.8" cy="293.0" r="0.80" fill="#3c3cae" fill-opacity="0.7"/>
<circle cx="577.9" cy="337.5" r="0.80" fill="#3c3cae" fill-opacity="0.7"/>
</g>
<line x1="44.3" y1="13.799999999999999" x2="44.3" y2="198.6" stroke="#333" stroke-width="1.6"/>
<line x1="40.8" y1="14.399999999999999" x2="44.3" y2="14.399999999999999" stroke="#333" stroke-width="1.6"/>
<line x1="40.8" y1="60.3" x2="44.3" y2="60.3" stroke="#333" stroke-width="1.6"/>
<line x1="40.8" y1="106.19999999999999" x2="44.3" y2="106.19999999999999" stroke="#333" stroke-width="1.6"/>
<line x1="40.8" y1="152.1" x2="44.3" y2="152.1" stroke="#333" stroke-width="1.6"/>
<line x1="40.8" y1="198.0" x2="44.3" y2="198.0" stroke="#333" stroke-width="1.6"/>
<line x1="42.099999999999994" y1="37.349999999999994" x2="44.3" y2="37.349999999999994" stroke="#333" stroke-width="1.6"/>
<line x1="42.099999999999994" y1="83.25" x2="44.3" y2="83.25" stroke="#333" stroke-width="1.6"/>
<line x1="42.099999999999994" y1="129.14999999999998" x2="44.3" y2="129.14999999999998" stroke="#333" stroke-width="1.6"/>
<line x1="42.099999999999994" y1="175.05" x2="44.3" y2="175.05" stroke="#333" stroke-width="1.6"/>
<text transform="translate(38.9,18.6) scale(0.92,1)" font-size="14.5" text-anchor="end">10</text>
<text transform="translate(38.9,64.5) scale(0.92,1)" font-size="14.5" text-anchor="end">0</text>
<text transform="translate(38.9,110.4) scale(0.92,1)" font-size="14.5" text-anchor="end">-10</text>
<text transform="translate(38.9,156.3) scale(0.92,1)" font-size="14.5" text-anchor="end">-20</text>
<text transform="translate(38.9,202.2) scale(0.92,1)" font-size="14.5" text-anchor="end">-30</text>
<line x1="43.699999999999996" y1="198.0" x2="307.40000000000003" y2="198.0" stroke="#333" stroke-width="1.6"/>
<line x1="44.3" y1="198.0" x2="44.3" y2="201.5" stroke="#333" stroke-width="1.6"/>
<line x1="131.8" y1="198.0" x2="131.8" y2="201.5" stroke="#333" stroke-width="1.6"/>
<line x1="219.3" y1="198.0" x2="219.3" y2="201.5" stroke="#333" stroke-width="1.6"/>
<line x1="306.8" y1="198.0" x2="306.8" y2="201.5" stroke="#333" stroke-width="1.6"/>
<line x1="88.05" y1="198.0" x2="88.05" y2="200.2" stroke="#333" stroke-width="1.6"/>
<line x1="175.55" y1="198.0" x2="175.55" y2="200.2" stroke="#333" stroke-width="1.6"/>
<line x1="263.05" y1="198.0" x2="263.05" y2="200.2" stroke="#333" stroke-width="1.6"/>
<text transform="translate(50.5,215.1) scale(0.92,1)" font-size="14.5" text-anchor="middle">0.999</text>
<text transform="translate(133.3,215.1) scale(0.92,1)" font-size="14.5" text-anchor="middle">1.000</text>
<text transform="translate(220.0,215.1) scale(0.92,1)" font-size="14.5" text-anchor="middle">1.001</text>
<text transform="translate(312.3,215.1) scale(0.92,1)" font-size="14.5" text-anchor="middle">1.002</text>
<text transform="translate(14.2,101.6) rotate(-90)" font-size="15.6" text-anchor="middle">Power (dBm)</text>
<text x="2.5" y="18.6" font-size="17.5" font-weight="bold">a</text>
<line x1="402.3" y1="12.9" x2="402.3" y2="196.35" stroke="#333" stroke-width="1.6"/>
<line x1="398.8" y1="13.5" x2="402.3" y2="13.5" stroke="#333" stroke-width="1.6"/>
<line x1="398.8" y1="54.0" x2="402.3" y2="54.0" stroke="#333" stroke-width="1.6"/>
<line x1="398.8" y1="94.5" x2="402.3" y2="94.5" stroke="#333" stroke-width="1.6"/>
<line x1="398.8" y1="135.0" x2="402.3" y2="135.0" stroke="#333" stroke-width="1.6"/>
<line x1="398.8" y1="175.5" x2="402.3" y2="175.5" stroke="#333" stroke-width="1.6"/>
<line x1="400.1" y1="33.75" x2="402.3" y2="33.75" stroke="#333" stroke-width="1.6"/>
<line x1="400.1" y1="74.25" x2="402.3" y2="74.25" stroke="#333" stroke-width="1.6"/>
<line x1="400.1" y1="114.75" x2="402.3" y2="114.75" stroke="#333" stroke-width="1.6"/>
<line x1="400.1" y1="155.25" x2="402.3" y2="155.25" stroke="#333" stroke-width="1.6"/>
<text transform="translate(397.0,17.7) scale(0.92,1)" font-size="14.5" text-anchor="end">10</text>
<text transform="translate(397.0,58.2) scale(0.92,1)" font-size="14.5" text-anchor="end">0</text>
<text transform="translate(397.0,98.7) scale(0.92,1)" font-size="14.5" text-anchor="end">-10</text>
<text transform="translate(397.0,139.2) scale(0.92,1)" font-size="14.5" text-anchor="end">-20</text>
<text transform="translate(397.0,179.7) scale(0.92,1)" font-size="14.5" text-anchor="end">-30</text>
<line x1="401.7" y1="195.75" x2="666.7" y2="195.75" stroke="#333" stroke-width="1.6"/>
<line x1="441.1" y1="195.75" x2="441.1" y2="199.25" stroke="#333" stroke-width="1.6"/>
<line x1="516.1" y1="195.75" x2="516.1" y2="199.25" stroke="#333" stroke-width="1.6"/>
<line x1="591.1" y1="195.75" x2="591.1" y2="199.25" stroke="#333" stroke-width="1.6"/>
<line x1="666.1" y1="195.75" x2="666.1" y2="199.25" stroke="#333" stroke-width="1.6"/>
<line x1="402.9" y1="195.75" x2="402.9" y2="197.95" stroke="#333" stroke-width="1.6"/>
<line x1="478.6" y1="195.75" x2="478.6" y2="197.95" stroke="#333" stroke-width="1.6"/>
<line x1="553.6" y1="195.75" x2="553.6" y2="197.95" stroke="#333" stroke-width="1.6"/>
<line x1="628.6" y1="195.75" x2="628.6" y2="197.95" stroke="#333" stroke-width="1.6"/>
<text transform="translate(439.3,210.9) scale(0.92,1)" font-size="14.5" text-anchor="middle">0.999</text>
<text transform="translate(518.3,210.9) scale(0.92,1)" font-size="14.5" text-anchor="middle">1.000</text>
<text transform="translate(591.4,210.9) scale(0.92,1)" font-size="14.5" text-anchor="middle">1.001</text>
<text transform="translate(666.3,210.9) scale(0.92,1)" font-size="14.5" text-anchor="middle">1.002</text>
<text transform="translate(372.6,102.8) rotate(-90)" font-size="15.6" text-anchor="middle">Power (dBm)</text>
<text x="359.5" y="21" font-size="17.5" font-weight="bold">b</text>
<line x1="44.3" y1="258.2" x2="44.3" y2="443.4000000000001" stroke="#333" stroke-width="1.6"/>
<line x1="40.8" y1="258.8" x2="44.3" y2="258.8" stroke="#333" stroke-width="1.6"/>
<line x1="40.8" y1="295.6" x2="44.3" y2="295.6" stroke="#333" stroke-width="1.6"/>
<line x1="40.8" y1="332.40000000000003" x2="44.3" y2="332.40000000000003" stroke="#333" stroke-width="1.6"/>
<line x1="40.8" y1="369.20000000000005" x2="44.3" y2="369.20000000000005" stroke="#333" stroke-width="1.6"/>
<line x1="40.8" y1="406.0" x2="44.3" y2="406.0" stroke="#333" stroke-width="1.6"/>
<line x1="40.8" y1="442.80000000000007" x2="44.3" y2="442.80000000000007" stroke="#333" stroke-width="1.6"/>
<line x1="42.099999999999994" y1="277.20000000000005" x2="44.3" y2="277.20000000000005" stroke="#333" stroke-width="1.6"/>
<line x1="42.099999999999994" y1="314.0" x2="44.3" y2="314.0" stroke="#333" stroke-width="1.6"/>
<line x1="42.099999999999994" y1="350.8" x2="44.3" y2="350.8" stroke="#333" stroke-width="1.6"/>
<line x1="42.099999999999994" y1="387.6" x2="44.3" y2="387.6" stroke="#333" stroke-width="1.6"/>
<line x1="42.099999999999994" y1="424.40000000000003" x2="44.3" y2="424.40000000000003" stroke="#333" stroke-width="1.6"/>
<text transform="translate(38.7,263.0) scale(0.92,1)" font-size="14.5" text-anchor="end">10</text>
<text transform="translate(38.7,299.8) scale(0.92,1)" font-size="14.5" text-anchor="end">0</text>
<text transform="translate(38.7,336.6) scale(0.92,1)" font-size="14.5" text-anchor="end">-10</text>
<text transform="translate(38.7,373.4) scale(0.92,1)" font-size="14.5" text-anchor="end">-20</text>
<text transform="translate(38.7,410.2) scale(0.92,1)" font-size="14.5" text-anchor="end">-30</text>
<text transform="translate(38.7,447.0) scale(0.92,1)" font-size="14.5" text-anchor="end">-40</text>
<line x1="43.699999999999996" y1="442.80000000000007" x2="307.6" y2="442.80000000000007" stroke="#333" stroke-width="1.6"/>
<line x1="44.3" y1="442.80000000000007" x2="44.3" y2="446.30000000000007" stroke="#333" stroke-width="1.6"/>
<line x1="131.9" y1="442.80000000000007" x2="131.9" y2="446.30000000000007" stroke="#333" stroke-width="1.6"/>
<line x1="219.4" y1="442.80000000000007" x2="219.4" y2="446.30000000000007" stroke="#333" stroke-width="1.6"/>
<line x1="307.0" y1="442.80000000000007" x2="307.0" y2="446.30000000000007" stroke="#333" stroke-width="1.6"/>
<line x1="88.1" y1="442.80000000000007" x2="88.1" y2="445.00000000000006" stroke="#333" stroke-width="1.6"/>
<line x1="175.6" y1="442.80000000000007" x2="175.6" y2="445.00000000000006" stroke="#333" stroke-width="1.6"/>
<line x1="263.2" y1="442.80000000000007" x2="263.2" y2="445.00000000000006" stroke="#333" stroke-width="1.6"/>
<text transform="translate(42.9,458.0) scale(0.92,1)" font-size="14.5" text-anchor="middle">0.998</text>
<text transform="translate(126.8,458.0) scale(0.92,1)" font-size="14.5" text-anchor="middle">0.999</text>
<text transform="translate(213.6,458.0) scale(0.92,1)" font-size="14.5" text-anchor="middle">1.000</text>
<text transform="translate(303.8,458.0) scale(0.92,1)" font-size="14.5" text-anchor="middle">1.001</text>
<text transform="translate(14.2,323.5) rotate(-90)" font-size="15.6" text-anchor="middle">Power (dBm)</text>
<text x="3.8" y="252.9" font-size="17.5" font-weight="bold">c</text>
<text x="182.4" y="481.3" font-size="16.8" text-anchor="middle">Frequency (GHz)</text>
<line x1="402.4" y1="259.0" x2="402.4" y2="443.35" stroke="#333" stroke-width="1.6"/>
<line x1="398.9" y1="259.6" x2="402.4" y2="259.6" stroke="#333" stroke-width="1.6"/>
<line x1="398.9" y1="300.3" x2="402.4" y2="300.3" stroke="#333" stroke-width="1.6"/>
<line x1="398.9" y1="341.0" x2="402.4" y2="341.0" stroke="#333" stroke-width="1.6"/>
<line x1="398.9" y1="381.70000000000005" x2="402.4" y2="381.70000000000005" stroke="#333" stroke-width="1.6"/>
<line x1="398.9" y1="422.40000000000003" x2="402.4" y2="422.40000000000003" stroke="#333" stroke-width="1.6"/>
<line x1="400.2" y1="279.95" x2="402.4" y2="279.95" stroke="#333" stroke-width="1.6"/>
<line x1="400.2" y1="320.65000000000003" x2="402.4" y2="320.65000000000003" stroke="#333" stroke-width="1.6"/>
<line x1="400.2" y1="361.35" x2="402.4" y2="361.35" stroke="#333" stroke-width="1.6"/>
<line x1="400.2" y1="402.05" x2="402.4" y2="402.05" stroke="#333" stroke-width="1.6"/>
<line x1="400.2" y1="442.75" x2="402.4" y2="442.75" stroke="#333" stroke-width="1.6"/>
<text transform="translate(396.6,263.8) scale(0.92,1)" font-size="14.5" text-anchor="end">10</text>
<text transform="translate(396.6,304.5) scale(0.92,1)" font-size="14.5" text-anchor="end">0</text>
<text transform="translate(396.6,345.2) scale(0.92,1)" font-size="14.5" text-anchor="end">-10</text>
<text transform="translate(396.6,385.9) scale(0.92,1)" font-size="14.5" text-anchor="end">-20</text>
<text transform="translate(396.6,426.6) scale(0.92,1)" font-size="14.5" text-anchor="end">-30</text>
<line x1="401.79999999999995" y1="442.75" x2="666.8000000000001" y2="442.75" stroke="#333" stroke-width="1.6"/>
<line x1="402.4" y1="442.75" x2="402.4" y2="446.25" stroke="#333" stroke-width="1.6"/>
<line x1="490.3" y1="442.75" x2="490.3" y2="446.25" stroke="#333" stroke-width="1.6"/>
<line x1="578.2" y1="442.75" x2="578.2" y2="446.25" stroke="#333" stroke-width="1.6"/>
<line x1="666.2" y1="442.75" x2="666.2" y2="446.25" stroke="#333" stroke-width="1.6"/>
<line x1="446.3" y1="442.75" x2="446.3" y2="444.95" stroke="#333" stroke-width="1.6"/>
<line x1="534.2" y1="442.75" x2="534.2" y2="444.95" stroke="#333" stroke-width="1.6"/>
<line x1="622.2" y1="442.75" x2="622.2" y2="444.95" stroke="#333" stroke-width="1.6"/>
<text transform="translate(401.7,459.2) scale(0.92,1)" font-size="14.5" text-anchor="middle">0.998</text>
<text transform="translate(485.8,459.2) scale(0.92,1)" font-size="14.5" text-anchor="middle">0.999</text>
<text transform="translate(572.3,459.2) scale(0.92,1)" font-size="14.5" text-anchor="middle">1.000</text>
<text transform="translate(663.1,459.2) scale(0.92,1)" font-size="14.5" text-anchor="middle">1.001</text>
<text transform="translate(373.6,329.7) rotate(-90)" font-size="15.6" text-anchor="middle">Power (dBm)</text>
<text x="358.3" y="256.6" font-size="17.5" font-weight="bold">d</text>
<text x="546" y="479.6" font-size="16.8" text-anchor="middle">Frequency (GHz)</text>
<rect x="228.7" y="4.3" width="75.10000000000002" height="43.800000000000004" fill="#fff" stroke="#5a5a5a" stroke-width="1.5"/>
<line x1="234.3" y1="14" x2="254.8" y2="14" stroke="#6a6a6a" stroke-width="1.4"/>
<text x="258.0" y="17.3" font-size="9.2" font-weight="bold" style="stroke:none;fill:#1a1a1a">71.0 km/s</text>
<line x1="234.3" y1="27" x2="254.8" y2="27" stroke="#f39a90" stroke-width="1.4"/>
<text x="258.0" y="30.3" font-size="9.2" font-weight="bold" style="stroke:none;fill:#1a1a1a">47.3 km/s</text>
<line x1="234.3" y1="40.3" x2="254.8" y2="40.3" stroke="#9d9dcc" stroke-width="1.4"/>
<text x="258.0" y="43.6" font-size="9.2" font-weight="bold" style="stroke:none;fill:#1a1a1a">35.5 km/s</text>
<rect x="580.1" y="7.6" width="84.69999999999993" height="43.6" fill="#fff" stroke="#5a5a5a" stroke-width="1.5"/>
<line x1="586.8" y1="17.3" x2="607.8" y2="17.3" stroke="#6a6a6a" stroke-width="1.4"/>
<text x="611.0" y="20.6" font-size="9.2" font-weight="bold" style="stroke:none;fill:#1a1a1a">– 71.0 km/s</text>
<line x1="586.8" y1="30.6" x2="607.8" y2="30.6" stroke="#f39a90" stroke-width="1.4"/>
<text x="611.0" y="33.9" font-size="9.2" font-weight="bold" style="stroke:none;fill:#1a1a1a">– 47.3 km/s</text>
<line x1="586.8" y1="44.0" x2="607.8" y2="44.0" stroke="#9d9dcc" stroke-width="1.4"/>
<text x="611.0" y="47.3" font-size="9.2" font-weight="bold" style="stroke:none;fill:#1a1a1a">– 35.5 km/s</text>
<rect x="222.6" y="238.5" width="83.20000000000002" height="44.0" fill="#fff" stroke="#5a5a5a" stroke-width="1.5"/>
<line x1="228.9" y1="249.2" x2="250.4" y2="249.2" stroke="#6a6a6a" stroke-width="1.4"/>
<text x="253.1" y="252.5" font-size="9.2" font-weight="bold" style="stroke:none;fill:#1a1a1a">– 71.0 km/s</text>
<line x1="228.9" y1="261.7" x2="250.4" y2="261.7" stroke="#f39a90" stroke-width="1.4"/>
<text x="253.1" y="265.0" font-size="9.2" font-weight="bold" style="stroke:none;fill:#1a1a1a">– 47.3 km/s</text>
<line x1="228.9" y1="274.8" x2="250.4" y2="274.8" stroke="#9d9dcc" stroke-width="1.4"/>
<text x="253.1" y="278.1" font-size="9.2" font-weight="bold" style="stroke:none;fill:#1a1a1a">– 35.5 km/s</text>
<rect x="589.7" y="240.2" width="75.59999999999991" height="43.0" fill="#fff" stroke="#5a5a5a" stroke-width="1.5"/>
<line x1="595.3" y1="249.9" x2="616.0" y2="249.9" stroke="#6a6a6a" stroke-width="1.4"/>
<text x="619.5" y="253.2" font-size="9.2" font-weight="bold" style="stroke:none;fill:#1a1a1a">71.0 km/s</text>
<line x1="595.3" y1="262.6" x2="616.0" y2="262.6" stroke="#f39a90" stroke-width="1.4"/>
<text x="619.5" y="265.9" font-size="9.2" font-weight="bold" style="stroke:none;fill:#1a1a1a">47.3 km/s</text>
<line x1="595.3" y1="276.2" x2="616.0" y2="276.2" stroke="#9d9dcc" stroke-width="1.4"/>
<text x="619.5" y="279.5" font-size="9.2" font-weight="bold" style="stroke:none;fill:#1a1a1a">35.5 km/s</text>
<text x="99.2" y="27.6" font-size="14.5">Incident frequency</text>
<polygon points="167.7,31.1 149.6,44.5 151.1,46.6 169.7,34.1" fill="#000"/>
<polygon points="143.5,50.4 152.2,38.4 150.4,45.6 157.7,46.2" fill="#000" stroke="#000" stroke-width="0.6" stroke-linejoin="round"/>
<text x="158.0" y="97.2" font-size="14.5">Inverse Doppler shifts</text>
<polygon points="210.4,99.6 198.3,117.6 200.3,119.1 213.4,101.8" fill="#000"/>
<polygon points="194.4,125.2 198.6,111.0 199.3,118.4 206.4,116.6" fill="#000" stroke="#000" stroke-width="0.6" stroke-linejoin="round"/>
<polygon points="219.4,101.7 216.5,127.7 218.9,128.0 223.0,102.1" fill="#000"/>
<polygon points="216.6,136.2 213.7,121.7 217.7,127.9 223.2,123.0" fill="#000" stroke="#000" stroke-width="0.6" stroke-linejoin="round"/>
<polygon points="234.8,106.2 250.5,139.1 252.7,138.0 238.0,104.6" fill="#000"/>
<polygon points="255.1,146.2 244.9,135.5 251.6,138.6 253.6,131.5" fill="#000" stroke="#000" stroke-width="0.6" stroke-linejoin="round"/>
<text x="440.4" y="20.8" font-size="14.5">Incident frequency</text>
<polygon points="498.0,22.8 510.7,36.2 512.1,34.9 500.0,21.0" fill="#000"/>
<polygon points="515.4,40.0 505.9,35.1 511.4,35.6 511.5,30.0" fill="#000" stroke="#000" stroke-width="0.6" stroke-linejoin="round"/>
<text x="546.6" y="76.8" font-size="14.5">Doppler shifts</text>
<polygon points="578.4,80.3 565.9,94.0 567.7,95.7 581.0,82.9" fill="#000"/>
<polygon points="561.3,100.5 567.1,87.7 566.8,94.8 573.9,94.4" fill="#000" stroke="#000" stroke-width="0.6" stroke-linejoin="round"/>
<polygon points="587.5,83.0 581.5,105.4 583.9,106.1 590.9,84.0" fill="#000"/>
<polygon points="580.3,113.8 579.6,99.0 582.7,105.7 588.9,101.7" fill="#000" stroke="#000" stroke-width="0.6" stroke-linejoin="round"/>
<polygon points="598.4,83.9 606.7,120.1 609.2,119.6 602.0,83.1" fill="#000"/>
<polygon points="609.7,128.1 602.1,115.4 608.0,119.9 611.5,113.4" fill="#000" stroke="#000" stroke-width="0.6" stroke-linejoin="round"/>
<text x="84.5" y="255.3" font-size="14.5">Incident frequency</text>
<polygon points="187.3,263.7 205.1,274.9 206.5,272.8 189.3,260.7" fill="#000"/>
<polygon points="212.8,278.5 198.5,274.7 205.8,273.8 203.8,266.7" fill="#000" stroke="#000" stroke-width="0.6" stroke-linejoin="round"/>
<text x="57.3" y="331.0" font-size="14.5">Inverse Doppler shifts</text>
<polygon points="108.6,338.5 94.7,373.8 97.0,374.7 112.0,339.9" fill="#000"/>
<polygon points="92.6,382.0 93.5,367.2 95.8,374.2 102.4,370.9" fill="#000" stroke="#000" stroke-width="0.6" stroke-linejoin="round"/>
<polygon points="122.5,338.3 127.0,365.0 129.4,364.6 126.1,337.7" fill="#000"/>
<polygon points="129.4,373.1 122.6,359.9 128.2,364.8 132.1,358.6" fill="#000" stroke="#000" stroke-width="0.6" stroke-linejoin="round"/>
<polygon points="136.7,336.1 147.8,354.8 150.0,353.6 139.9,334.3" fill="#000"/>
<polygon points="153.0,361.5 142.0,351.6 148.9,354.2 150.4,346.9" fill="#000" stroke="#000" stroke-width="0.6" stroke-linejoin="round"/>
<text x="456.1" y="258.6" font-size="14.5">Incident frequency</text>
<polygon points="555.8,266.5 569.3,279.1 571.1,277.3 558.4,263.9" fill="#000"/>
<polygon points="575.8,283.8 563.1,277.9 570.2,278.2 569.8,271.1" fill="#000" stroke="#000" stroke-width="0.6" stroke-linejoin="round"/>
<text x="451.4" y="324.1" font-size="14.5">Doppler shifts</text>
<polygon points="487.2,329.2 479.5,365.1 481.9,365.7 490.8,330.0" fill="#000"/>
<polygon points="478.8,373.6 477.3,358.9 480.7,365.4 486.6,361.0" fill="#000" stroke="#000" stroke-width="0.6" stroke-linejoin="round"/>
<polygon points="498.0,330.1 504.9,351.6 507.3,350.9 501.4,329.1" fill="#000"/>
<polygon points="508.5,359.3 499.9,347.2 506.1,351.2 509.1,344.5" fill="#000" stroke="#000" stroke-width="0.6" stroke-linejoin="round"/>
<polygon points="508.2,327.8 521.5,341.0 523.3,339.3 510.8,325.4" fill="#000"/>
<polygon points="527.9,346.0 515.2,339.6 522.4,340.2 522.2,333.0" fill="#000" stroke="#000" stroke-width="0.6" stroke-linejoin="round"/>
</svg>
</body></html>
